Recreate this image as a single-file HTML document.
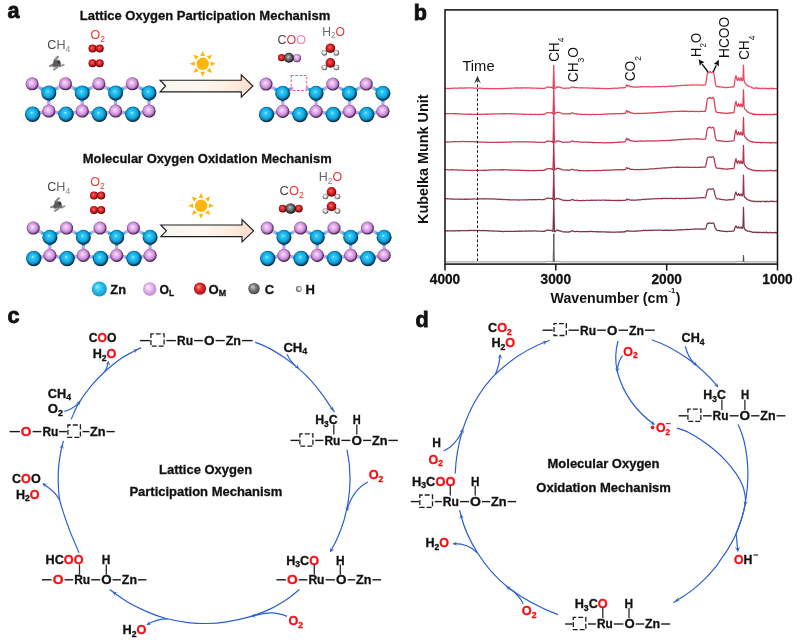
<!DOCTYPE html>
<html><head><meta charset="utf-8"><title>figure</title>
<style>html,body{margin:0;padding:0;background:#fff;}svg{display:block;will-change:transform;}text{font-family:"Liberation Sans",sans-serif;}</style>
</head><body>
<svg width="800" height="642" viewBox="0 0 800 642">
<defs>
<radialGradient id="gB" cx="0.47" cy="0.46" r="0.55" fx="0.44" fy="0.40"><stop offset="0" stop-color="#e4faff"/><stop offset="0.14" stop-color="#38cdf8"/><stop offset="0.46" stop-color="#19b5ec"/><stop offset="0.68" stop-color="#0f96cd"/><stop offset="0.86" stop-color="#074a70"/><stop offset="1" stop-color="#020f18"/></radialGradient>
<radialGradient id="gP" cx="0.47" cy="0.46" r="0.55" fx="0.44" fy="0.40"><stop offset="0" stop-color="#ffffff"/><stop offset="0.14" stop-color="#f2cdf8"/><stop offset="0.46" stop-color="#dfa4eb"/><stop offset="0.68" stop-color="#c387d2"/><stop offset="0.86" stop-color="#6a4074"/><stop offset="1" stop-color="#180a1e"/></radialGradient>
<radialGradient id="gR" cx="0.47" cy="0.46" r="0.55" fx="0.44" fy="0.40"><stop offset="0" stop-color="#ffd8d8"/><stop offset="0.14" stop-color="#f45050"/><stop offset="0.46" stop-color="#e42428"/><stop offset="0.68" stop-color="#c4181a"/><stop offset="0.86" stop-color="#6e0a0a"/><stop offset="1" stop-color="#220000"/></radialGradient>
<radialGradient id="gG" cx="0.47" cy="0.46" r="0.55" fx="0.44" fy="0.40"><stop offset="0" stop-color="#f0f0f0"/><stop offset="0.14" stop-color="#a4a4a4"/><stop offset="0.46" stop-color="#707070"/><stop offset="0.68" stop-color="#4e4e4e"/><stop offset="0.86" stop-color="#262626"/><stop offset="1" stop-color="#050505"/></radialGradient>
<radialGradient id="gW" cx="0.47" cy="0.46" r="0.55" fx="0.44" fy="0.40"><stop offset="0" stop-color="#ffffff"/><stop offset="0.14" stop-color="#f6f6f6"/><stop offset="0.46" stop-color="#d8d8d8"/><stop offset="0.68" stop-color="#a4a4a4"/><stop offset="0.86" stop-color="#5e5e5e"/><stop offset="1" stop-color="#222222"/></radialGradient>
<radialGradient id="gBL" cx="0.5" cy="0.5" r="0.62" fx="0.36" fy="0.33"><stop offset="0" stop-color="#9af0ff"/><stop offset="0.38" stop-color="#34c8f2"/><stop offset="0.78" stop-color="#159ccf"/><stop offset="1" stop-color="#0a4a6c"/></radialGradient>
<radialGradient id="gPL" cx="0.5" cy="0.5" r="0.62" fx="0.36" fy="0.33"><stop offset="0" stop-color="#ffffff"/><stop offset="0.38" stop-color="#e9bcf3"/><stop offset="0.78" stop-color="#c790d6"/><stop offset="1" stop-color="#6c4478"/></radialGradient>
<radialGradient id="gRL" cx="0.5" cy="0.5" r="0.62" fx="0.36" fy="0.33"><stop offset="0" stop-color="#ff9c9c"/><stop offset="0.38" stop-color="#e83034"/><stop offset="0.78" stop-color="#b01418"/><stop offset="1" stop-color="#4a0404"/></radialGradient>
<radialGradient id="gGL" cx="0.5" cy="0.5" r="0.62" fx="0.36" fy="0.33"><stop offset="0" stop-color="#d0d0d0"/><stop offset="0.38" stop-color="#848484"/><stop offset="0.78" stop-color="#4c4c4c"/><stop offset="1" stop-color="#181818"/></radialGradient>
<radialGradient id="gHL" cx="0.5" cy="0.5" r="0.62" fx="0.66" fy="0.42"><stop offset="0" stop-color="#ffffff"/><stop offset="0.35" stop-color="#d8d8d8"/><stop offset="0.75" stop-color="#707070"/><stop offset="1" stop-color="#2a2a2a"/></radialGradient>
<linearGradient id="gArrow" x1="0" x2="1" y1="0" y2="0"><stop offset="0" stop-color="#f7f5f0"/><stop offset="0.45" stop-color="#fdf7f0"/><stop offset="0.8" stop-color="#fdebdc"/><stop offset="1" stop-color="#fbdac8"/></linearGradient>
<filter id="blur1" x="-20%" y="-20%" width="140%" height="140%"><feGaussianBlur stdDeviation="0.55"/></filter>
<marker id="ah" viewBox="0 0 10 10" refX="8" refY="5" markerWidth="5.5" markerHeight="5.5" orient="auto-start-reverse"><path d="M0,1 L10,5 L0,9 L3,5 Z" fill="#2a5fd0"/></marker>
</defs>
<rect width="800" height="642" fill="#fff"/>
<g id="panel-a">
<text x="7.4" y="18.3" font-size="21.6" font-weight="bold" fill="#111" text-anchor="start" stroke="#111" stroke-width="0.8">a</text>
<text x="205" y="19.9" font-size="13" font-weight="bold" fill="#111" text-anchor="middle" textLength="250.5" lengthAdjust="spacingAndGlyphs" stroke="#111" stroke-width="0.3">Lattice Oxygen Participation Mechanism</text>
<text x="207.2" y="163.2" font-size="13" font-weight="bold" fill="#111" text-anchor="middle" textLength="249" lengthAdjust="spacingAndGlyphs" stroke="#111" stroke-width="0.3">Molecular Oxygen Oxidation Mechanism</text>
<line x1="32.1" y1="83.8" x2="40.5" y2="88.3" stroke="#d79be6" stroke-width="3.3"/>
<line x1="40.5" y1="88.3" x2="48.8" y2="92.9" stroke="#1cb4e6" stroke-width="3.3"/>
<line x1="48.8" y1="92.9" x2="57.1" y2="88.3" stroke="#1cb4e6" stroke-width="3.3"/>
<line x1="57.1" y1="88.3" x2="65.5" y2="83.8" stroke="#d79be6" stroke-width="3.3"/>
<line x1="65.5" y1="83.8" x2="73.8" y2="88.3" stroke="#d79be6" stroke-width="3.3"/>
<line x1="73.8" y1="88.3" x2="82.2" y2="92.9" stroke="#1cb4e6" stroke-width="3.3"/>
<line x1="82.2" y1="92.9" x2="90.5" y2="88.3" stroke="#1cb4e6" stroke-width="3.3"/>
<line x1="90.5" y1="88.3" x2="98.9" y2="83.8" stroke="#d79be6" stroke-width="3.3"/>
<line x1="98.9" y1="83.8" x2="107.2" y2="88.3" stroke="#d79be6" stroke-width="3.3"/>
<line x1="107.2" y1="88.3" x2="115.6" y2="92.9" stroke="#1cb4e6" stroke-width="3.3"/>
<line x1="115.6" y1="92.9" x2="123.9" y2="88.3" stroke="#1cb4e6" stroke-width="3.3"/>
<line x1="123.9" y1="88.3" x2="132.3" y2="83.8" stroke="#d79be6" stroke-width="3.3"/>
<line x1="132.3" y1="83.8" x2="140.6" y2="88.3" stroke="#d79be6" stroke-width="3.3"/>
<line x1="140.6" y1="88.3" x2="149.0" y2="92.9" stroke="#1cb4e6" stroke-width="3.3"/>
<line x1="32.6" y1="114.2" x2="40.7" y2="112.6" stroke="#1cb4e6" stroke-width="3.3"/>
<line x1="40.7" y1="112.6" x2="48.8" y2="111.0" stroke="#d79be6" stroke-width="3.3"/>
<line x1="48.8" y1="111.0" x2="57.4" y2="112.6" stroke="#d79be6" stroke-width="3.3"/>
<line x1="57.4" y1="112.6" x2="66.0" y2="114.2" stroke="#1cb4e6" stroke-width="3.3"/>
<line x1="66.0" y1="114.2" x2="74.1" y2="112.6" stroke="#1cb4e6" stroke-width="3.3"/>
<line x1="74.1" y1="112.6" x2="82.2" y2="111.0" stroke="#d79be6" stroke-width="3.3"/>
<line x1="82.2" y1="111.0" x2="90.8" y2="112.6" stroke="#d79be6" stroke-width="3.3"/>
<line x1="90.8" y1="112.6" x2="99.4" y2="114.2" stroke="#1cb4e6" stroke-width="3.3"/>
<line x1="99.4" y1="114.2" x2="107.5" y2="112.6" stroke="#1cb4e6" stroke-width="3.3"/>
<line x1="107.5" y1="112.6" x2="115.6" y2="111.0" stroke="#d79be6" stroke-width="3.3"/>
<line x1="115.6" y1="111.0" x2="124.2" y2="112.6" stroke="#d79be6" stroke-width="3.3"/>
<line x1="124.2" y1="112.6" x2="132.8" y2="114.2" stroke="#1cb4e6" stroke-width="3.3"/>
<line x1="132.8" y1="114.2" x2="140.9" y2="112.6" stroke="#1cb4e6" stroke-width="3.3"/>
<line x1="140.9" y1="112.6" x2="149.0" y2="111.0" stroke="#d79be6" stroke-width="3.3"/>
<line x1="48.8" y1="92.9" x2="48.8" y2="101.9" stroke="#1cb4e6" stroke-width="3.3"/>
<line x1="48.8" y1="101.9" x2="48.8" y2="111.0" stroke="#d79be6" stroke-width="3.3"/>
<line x1="82.2" y1="92.9" x2="82.2" y2="101.9" stroke="#1cb4e6" stroke-width="3.3"/>
<line x1="82.2" y1="101.9" x2="82.2" y2="111.0" stroke="#d79be6" stroke-width="3.3"/>
<line x1="115.6" y1="92.9" x2="115.6" y2="101.9" stroke="#1cb4e6" stroke-width="3.3"/>
<line x1="115.6" y1="101.9" x2="115.6" y2="111.0" stroke="#d79be6" stroke-width="3.3"/>
<line x1="149.0" y1="92.9" x2="149.0" y2="101.9" stroke="#1cb4e6" stroke-width="3.3"/>
<line x1="149.0" y1="101.9" x2="149.0" y2="111.0" stroke="#d79be6" stroke-width="3.3"/>
<circle cx="32.6" cy="114.2" r="7.7" fill="url(#gB)"/>
<circle cx="48.8" cy="111.0" r="6.6" fill="url(#gP)"/>
<circle cx="66.0" cy="114.2" r="7.7" fill="url(#gB)"/>
<circle cx="82.2" cy="111.0" r="6.6" fill="url(#gP)"/>
<circle cx="99.4" cy="114.2" r="7.7" fill="url(#gB)"/>
<circle cx="115.6" cy="111.0" r="6.6" fill="url(#gP)"/>
<circle cx="132.8" cy="114.2" r="7.7" fill="url(#gB)"/>
<circle cx="149.0" cy="111.0" r="6.6" fill="url(#gP)"/>
<circle cx="32.1" cy="83.8" r="6.5" fill="url(#gP)"/>
<circle cx="48.8" cy="92.9" r="7.5" fill="url(#gB)"/>
<circle cx="65.5" cy="83.8" r="6.5" fill="url(#gP)"/>
<circle cx="82.2" cy="92.9" r="7.5" fill="url(#gB)"/>
<circle cx="98.9" cy="83.8" r="6.5" fill="url(#gP)"/>
<circle cx="115.6" cy="92.9" r="7.5" fill="url(#gB)"/>
<circle cx="132.3" cy="83.8" r="6.5" fill="url(#gP)"/>
<circle cx="149.0" cy="92.9" r="7.5" fill="url(#gB)"/>
<line x1="266.0" y1="84.1" x2="274.4" y2="88.6" stroke="#d79be6" stroke-width="3.3"/>
<line x1="274.4" y1="88.6" x2="282.7" y2="93.2" stroke="#1cb4e6" stroke-width="3.3"/>
<line x1="282.7" y1="93.2" x2="291.0" y2="88.6" stroke="#1cb4e6" stroke-width="3"/>
<line x1="291.0" y1="88.6" x2="293.1" y2="87.6" stroke="#d79be6" stroke-width="3"/>
<line x1="316.1" y1="93.2" x2="307.8" y2="88.6" stroke="#1cb4e6" stroke-width="3"/>
<line x1="307.8" y1="88.6" x2="305.7" y2="87.6" stroke="#d79be6" stroke-width="3"/>
<line x1="316.1" y1="93.2" x2="324.5" y2="88.6" stroke="#1cb4e6" stroke-width="3.3"/>
<line x1="324.5" y1="88.6" x2="332.8" y2="84.1" stroke="#d79be6" stroke-width="3.3"/>
<line x1="332.8" y1="84.1" x2="341.1" y2="88.6" stroke="#d79be6" stroke-width="3.3"/>
<line x1="341.1" y1="88.6" x2="349.5" y2="93.2" stroke="#1cb4e6" stroke-width="3.3"/>
<line x1="349.5" y1="93.2" x2="357.9" y2="88.6" stroke="#1cb4e6" stroke-width="3.3"/>
<line x1="357.9" y1="88.6" x2="366.2" y2="84.1" stroke="#d79be6" stroke-width="3.3"/>
<line x1="366.2" y1="84.1" x2="374.5" y2="88.6" stroke="#d79be6" stroke-width="3.3"/>
<line x1="374.5" y1="88.6" x2="382.9" y2="93.2" stroke="#1cb4e6" stroke-width="3.3"/>
<line x1="266.5" y1="114.5" x2="274.6" y2="112.9" stroke="#1cb4e6" stroke-width="3.3"/>
<line x1="274.6" y1="112.9" x2="282.7" y2="111.3" stroke="#d79be6" stroke-width="3.3"/>
<line x1="282.7" y1="111.3" x2="291.3" y2="112.9" stroke="#d79be6" stroke-width="3.3"/>
<line x1="291.3" y1="112.9" x2="299.9" y2="114.5" stroke="#1cb4e6" stroke-width="3.3"/>
<line x1="299.9" y1="114.5" x2="308.0" y2="112.9" stroke="#1cb4e6" stroke-width="3.3"/>
<line x1="308.0" y1="112.9" x2="316.1" y2="111.3" stroke="#d79be6" stroke-width="3.3"/>
<line x1="316.1" y1="111.3" x2="324.7" y2="112.9" stroke="#d79be6" stroke-width="3.3"/>
<line x1="324.7" y1="112.9" x2="333.3" y2="114.5" stroke="#1cb4e6" stroke-width="3.3"/>
<line x1="333.3" y1="114.5" x2="341.4" y2="112.9" stroke="#1cb4e6" stroke-width="3.3"/>
<line x1="341.4" y1="112.9" x2="349.5" y2="111.3" stroke="#d79be6" stroke-width="3.3"/>
<line x1="349.5" y1="111.3" x2="358.1" y2="112.9" stroke="#d79be6" stroke-width="3.3"/>
<line x1="358.1" y1="112.9" x2="366.7" y2="114.5" stroke="#1cb4e6" stroke-width="3.3"/>
<line x1="366.7" y1="114.5" x2="374.8" y2="112.9" stroke="#1cb4e6" stroke-width="3.3"/>
<line x1="374.8" y1="112.9" x2="382.9" y2="111.3" stroke="#d79be6" stroke-width="3.3"/>
<line x1="282.7" y1="93.2" x2="282.7" y2="102.2" stroke="#1cb4e6" stroke-width="3.3"/>
<line x1="282.7" y1="102.2" x2="282.7" y2="111.3" stroke="#d79be6" stroke-width="3.3"/>
<line x1="316.1" y1="93.2" x2="316.1" y2="102.2" stroke="#1cb4e6" stroke-width="3.3"/>
<line x1="316.1" y1="102.2" x2="316.1" y2="111.3" stroke="#d79be6" stroke-width="3.3"/>
<line x1="349.5" y1="93.2" x2="349.5" y2="102.2" stroke="#1cb4e6" stroke-width="3.3"/>
<line x1="349.5" y1="102.2" x2="349.5" y2="111.3" stroke="#d79be6" stroke-width="3.3"/>
<line x1="382.9" y1="93.2" x2="382.9" y2="102.2" stroke="#1cb4e6" stroke-width="3.3"/>
<line x1="382.9" y1="102.2" x2="382.9" y2="111.3" stroke="#d79be6" stroke-width="3.3"/>
<circle cx="266.5" cy="114.5" r="7.7" fill="url(#gB)"/>
<circle cx="282.7" cy="111.3" r="6.6" fill="url(#gP)"/>
<circle cx="299.9" cy="114.5" r="7.7" fill="url(#gB)"/>
<circle cx="316.1" cy="111.3" r="6.6" fill="url(#gP)"/>
<circle cx="333.3" cy="114.5" r="7.7" fill="url(#gB)"/>
<circle cx="349.5" cy="111.3" r="6.6" fill="url(#gP)"/>
<circle cx="366.7" cy="114.5" r="7.7" fill="url(#gB)"/>
<circle cx="382.9" cy="111.3" r="6.6" fill="url(#gP)"/>
<circle cx="266.0" cy="84.1" r="6.5" fill="url(#gP)"/>
<circle cx="282.7" cy="93.2" r="7.5" fill="url(#gB)"/>
<circle cx="316.1" cy="93.2" r="7.5" fill="url(#gB)"/>
<circle cx="332.8" cy="84.1" r="6.5" fill="url(#gP)"/>
<circle cx="349.5" cy="93.2" r="7.5" fill="url(#gB)"/>
<circle cx="366.2" cy="84.1" r="6.5" fill="url(#gP)"/>
<circle cx="382.9" cy="93.2" r="7.5" fill="url(#gB)"/>
<rect x="291.2" y="75.5" width="15.6" height="15" fill="none" stroke="#ee4fa0" stroke-width="1" stroke-dasharray="2.6,1.6"/>
<path d="M160.1,80.2 L241.3,80.2 L241.3,74.8 L252.89999999999998,86 L241.3,97.2 L241.3,91.8 L160.1,91.8 L165.6,86 Z" fill="url(#gArrow)" stroke="#1e1e1e" stroke-width="1.15" stroke-linejoin="miter"/>
<circle cx="202.7" cy="63.8" r="6.2" fill="#ffb60a"/>
<path d="M210.60,66.10 L215.70,63.80 L210.60,61.50 Z" fill="#ffb60a"/>
<path d="M206.66,71.01 L211.89,72.99 L209.91,67.76 Z" fill="#ffb60a"/>
<path d="M200.40,71.70 L202.70,76.80 L205.00,71.70 Z" fill="#ffb60a"/>
<path d="M195.49,67.76 L193.51,72.99 L198.74,71.01 Z" fill="#ffb60a"/>
<path d="M194.80,61.50 L189.70,63.80 L194.80,66.10 Z" fill="#ffb60a"/>
<path d="M198.74,56.59 L193.51,54.61 L195.49,59.84 Z" fill="#ffb60a"/>
<path d="M205.00,55.90 L202.70,50.80 L200.40,55.90 Z" fill="#ffb60a"/>
<path d="M209.91,59.84 L211.89,54.61 L206.66,56.59 Z" fill="#ffb60a"/>
<text x="47.3" y="48.9" font-size="12.6" font-weight="normal" text-anchor="start" textLength="23" lengthAdjust="spacingAndGlyphs"><tspan fill="#444">C</tspan><tspan fill="#666">H</tspan><tspan fill="#888" font-size="8.57" dy="2.77">4</tspan></text>
<text x="90.6" y="39.2" font-size="12.6" font-weight="normal" text-anchor="start" textLength="14.4" lengthAdjust="spacingAndGlyphs"><tspan fill="#e8333a">O</tspan><tspan fill="#e8333a" font-size="8.57" dy="2.77">2</tspan></text>
<g filter="url(#blur1)" transform="translate(0.0,0.0)" stroke-linecap="round" fill="none">
<line x1="54.6" y1="60.4" x2="57.8" y2="56.9" stroke="#8c8c8c" stroke-width="2.3"/>
<line x1="57.6" y1="66.9" x2="54.1" y2="69.5" stroke="#8c8c8c" stroke-width="2.1"/>
<line x1="60.2" y1="66.2" x2="63.6" y2="64.8" stroke="#9a9a9a" stroke-width="2.0"/>
<line x1="52.4" y1="65" x2="50" y2="66" stroke="#888" stroke-width="2.0"/>
<path d="M52.2,65.6 L54.2,60.6 L58.6,60.2 L60.6,62.8 L60.4,66.2 L56.5,66.2 L53.8,67 Z" fill="#5c5c5c" stroke="#5c5c5c" stroke-width="0.6"/>
<circle cx="58.8" cy="62" r="1.4" fill="#333" stroke="none"/>
</g>
<circle cx="92.5" cy="48.6" r="4.0" fill="url(#gR)"/>
<circle cx="99.7" cy="48.6" r="4.0" fill="url(#gR)"/>
<circle cx="92.5" cy="63.2" r="4.0" fill="url(#gR)"/>
<circle cx="99.7" cy="63.2" r="4.0" fill="url(#gR)"/>
<text x="277.5" y="44.3" font-size="12.6" font-weight="normal" text-anchor="start" textLength="28.5" lengthAdjust="spacingAndGlyphs"><tspan fill="#444">C</tspan><tspan fill="#e8333a">O</tspan><tspan fill="#f27fc4">O</tspan></text>
<text x="322.2" y="35.5" font-size="12.6" font-weight="normal" text-anchor="start" textLength="22.8" lengthAdjust="spacingAndGlyphs"><tspan fill="#666">H</tspan><tspan fill="#888" font-size="8.57" dy="2.77">2</tspan><tspan fill="#e8333a" dy="-2.77">O</tspan></text>
<circle cx="281.6" cy="57.7" r="3.6" fill="url(#gR)"/>
<circle cx="296.9" cy="58.1" r="4.2" fill="url(#gP)"/>
<circle cx="288.9" cy="57.8" r="5.0" fill="url(#gG)"/>
<circle cx="324.4" cy="52.8" r="2.8" fill="url(#gW)"/>
<circle cx="336.4" cy="52.8" r="2.8" fill="url(#gW)"/>
<circle cx="330.4" cy="48.2" r="4.8" fill="url(#gR)"/>
<circle cx="324.4" cy="67.5" r="2.8" fill="url(#gW)"/>
<circle cx="336.4" cy="67.5" r="2.8" fill="url(#gW)"/>
<circle cx="330.4" cy="62.9" r="4.8" fill="url(#gR)"/>
<line x1="33.2" y1="228.1" x2="41.6" y2="232.6" stroke="#d79be6" stroke-width="3.3"/>
<line x1="41.6" y1="232.6" x2="49.9" y2="237.2" stroke="#1cb4e6" stroke-width="3.3"/>
<line x1="49.9" y1="237.2" x2="58.2" y2="232.6" stroke="#1cb4e6" stroke-width="3.3"/>
<line x1="58.2" y1="232.6" x2="66.6" y2="228.1" stroke="#d79be6" stroke-width="3.3"/>
<line x1="66.6" y1="228.1" x2="74.9" y2="232.6" stroke="#d79be6" stroke-width="3.3"/>
<line x1="74.9" y1="232.6" x2="83.3" y2="237.2" stroke="#1cb4e6" stroke-width="3.3"/>
<line x1="83.3" y1="237.2" x2="91.7" y2="232.6" stroke="#1cb4e6" stroke-width="3.3"/>
<line x1="91.7" y1="232.6" x2="100.0" y2="228.1" stroke="#d79be6" stroke-width="3.3"/>
<line x1="100.0" y1="228.1" x2="108.3" y2="232.6" stroke="#d79be6" stroke-width="3.3"/>
<line x1="108.3" y1="232.6" x2="116.7" y2="237.2" stroke="#1cb4e6" stroke-width="3.3"/>
<line x1="116.7" y1="237.2" x2="125.0" y2="232.6" stroke="#1cb4e6" stroke-width="3.3"/>
<line x1="125.0" y1="232.6" x2="133.4" y2="228.1" stroke="#d79be6" stroke-width="3.3"/>
<line x1="133.4" y1="228.1" x2="141.8" y2="232.6" stroke="#d79be6" stroke-width="3.3"/>
<line x1="141.8" y1="232.6" x2="150.1" y2="237.2" stroke="#1cb4e6" stroke-width="3.3"/>
<line x1="33.7" y1="258.5" x2="41.8" y2="256.9" stroke="#1cb4e6" stroke-width="3.3"/>
<line x1="41.8" y1="256.9" x2="49.9" y2="255.3" stroke="#d79be6" stroke-width="3.3"/>
<line x1="49.9" y1="255.3" x2="58.5" y2="256.9" stroke="#d79be6" stroke-width="3.3"/>
<line x1="58.5" y1="256.9" x2="67.1" y2="258.5" stroke="#1cb4e6" stroke-width="3.3"/>
<line x1="67.1" y1="258.5" x2="75.2" y2="256.9" stroke="#1cb4e6" stroke-width="3.3"/>
<line x1="75.2" y1="256.9" x2="83.3" y2="255.3" stroke="#d79be6" stroke-width="3.3"/>
<line x1="83.3" y1="255.3" x2="91.9" y2="256.9" stroke="#d79be6" stroke-width="3.3"/>
<line x1="91.9" y1="256.9" x2="100.5" y2="258.5" stroke="#1cb4e6" stroke-width="3.3"/>
<line x1="100.5" y1="258.5" x2="108.6" y2="256.9" stroke="#1cb4e6" stroke-width="3.3"/>
<line x1="108.6" y1="256.9" x2="116.7" y2="255.3" stroke="#d79be6" stroke-width="3.3"/>
<line x1="116.7" y1="255.3" x2="125.3" y2="256.9" stroke="#d79be6" stroke-width="3.3"/>
<line x1="125.3" y1="256.9" x2="133.9" y2="258.5" stroke="#1cb4e6" stroke-width="3.3"/>
<line x1="133.9" y1="258.5" x2="142.0" y2="256.9" stroke="#1cb4e6" stroke-width="3.3"/>
<line x1="142.0" y1="256.9" x2="150.1" y2="255.3" stroke="#d79be6" stroke-width="3.3"/>
<line x1="49.9" y1="237.2" x2="49.9" y2="246.2" stroke="#1cb4e6" stroke-width="3.3"/>
<line x1="49.9" y1="246.2" x2="49.9" y2="255.3" stroke="#d79be6" stroke-width="3.3"/>
<line x1="83.3" y1="237.2" x2="83.3" y2="246.2" stroke="#1cb4e6" stroke-width="3.3"/>
<line x1="83.3" y1="246.2" x2="83.3" y2="255.3" stroke="#d79be6" stroke-width="3.3"/>
<line x1="116.7" y1="237.2" x2="116.7" y2="246.2" stroke="#1cb4e6" stroke-width="3.3"/>
<line x1="116.7" y1="246.2" x2="116.7" y2="255.3" stroke="#d79be6" stroke-width="3.3"/>
<line x1="150.1" y1="237.2" x2="150.1" y2="246.2" stroke="#1cb4e6" stroke-width="3.3"/>
<line x1="150.1" y1="246.2" x2="150.1" y2="255.3" stroke="#d79be6" stroke-width="3.3"/>
<circle cx="33.7" cy="258.5" r="7.7" fill="url(#gB)"/>
<circle cx="49.9" cy="255.3" r="6.6" fill="url(#gP)"/>
<circle cx="67.1" cy="258.5" r="7.7" fill="url(#gB)"/>
<circle cx="83.3" cy="255.3" r="6.6" fill="url(#gP)"/>
<circle cx="100.5" cy="258.5" r="7.7" fill="url(#gB)"/>
<circle cx="116.7" cy="255.3" r="6.6" fill="url(#gP)"/>
<circle cx="133.9" cy="258.5" r="7.7" fill="url(#gB)"/>
<circle cx="150.1" cy="255.3" r="6.6" fill="url(#gP)"/>
<circle cx="33.2" cy="228.1" r="6.5" fill="url(#gP)"/>
<circle cx="49.9" cy="237.2" r="7.5" fill="url(#gB)"/>
<circle cx="66.6" cy="228.1" r="6.5" fill="url(#gP)"/>
<circle cx="83.3" cy="237.2" r="7.5" fill="url(#gB)"/>
<circle cx="100.0" cy="228.1" r="6.5" fill="url(#gP)"/>
<circle cx="116.7" cy="237.2" r="7.5" fill="url(#gB)"/>
<circle cx="133.4" cy="228.1" r="6.5" fill="url(#gP)"/>
<circle cx="150.1" cy="237.2" r="7.5" fill="url(#gB)"/>
<line x1="267.2" y1="228.1" x2="275.5" y2="232.6" stroke="#d79be6" stroke-width="3.3"/>
<line x1="275.5" y1="232.6" x2="283.9" y2="237.2" stroke="#1cb4e6" stroke-width="3.3"/>
<line x1="283.9" y1="237.2" x2="292.2" y2="232.6" stroke="#1cb4e6" stroke-width="3.3"/>
<line x1="292.2" y1="232.6" x2="300.6" y2="228.1" stroke="#d79be6" stroke-width="3.3"/>
<line x1="300.6" y1="228.1" x2="308.9" y2="232.6" stroke="#d79be6" stroke-width="3.3"/>
<line x1="308.9" y1="232.6" x2="317.3" y2="237.2" stroke="#1cb4e6" stroke-width="3.3"/>
<line x1="317.3" y1="237.2" x2="325.6" y2="232.6" stroke="#1cb4e6" stroke-width="3.3"/>
<line x1="325.6" y1="232.6" x2="334.0" y2="228.1" stroke="#d79be6" stroke-width="3.3"/>
<line x1="334.0" y1="228.1" x2="342.4" y2="232.6" stroke="#d79be6" stroke-width="3.3"/>
<line x1="342.4" y1="232.6" x2="350.7" y2="237.2" stroke="#1cb4e6" stroke-width="3.3"/>
<line x1="350.7" y1="237.2" x2="359.0" y2="232.6" stroke="#1cb4e6" stroke-width="3.3"/>
<line x1="359.0" y1="232.6" x2="367.4" y2="228.1" stroke="#d79be6" stroke-width="3.3"/>
<line x1="367.4" y1="228.1" x2="375.8" y2="232.6" stroke="#d79be6" stroke-width="3.3"/>
<line x1="375.8" y1="232.6" x2="384.1" y2="237.2" stroke="#1cb4e6" stroke-width="3.3"/>
<line x1="267.7" y1="258.5" x2="275.8" y2="256.9" stroke="#1cb4e6" stroke-width="3.3"/>
<line x1="275.8" y1="256.9" x2="283.9" y2="255.3" stroke="#d79be6" stroke-width="3.3"/>
<line x1="283.9" y1="255.3" x2="292.5" y2="256.9" stroke="#d79be6" stroke-width="3.3"/>
<line x1="292.5" y1="256.9" x2="301.1" y2="258.5" stroke="#1cb4e6" stroke-width="3.3"/>
<line x1="301.1" y1="258.5" x2="309.2" y2="256.9" stroke="#1cb4e6" stroke-width="3.3"/>
<line x1="309.2" y1="256.9" x2="317.3" y2="255.3" stroke="#d79be6" stroke-width="3.3"/>
<line x1="317.3" y1="255.3" x2="325.9" y2="256.9" stroke="#d79be6" stroke-width="3.3"/>
<line x1="325.9" y1="256.9" x2="334.5" y2="258.5" stroke="#1cb4e6" stroke-width="3.3"/>
<line x1="334.5" y1="258.5" x2="342.6" y2="256.9" stroke="#1cb4e6" stroke-width="3.3"/>
<line x1="342.6" y1="256.9" x2="350.7" y2="255.3" stroke="#d79be6" stroke-width="3.3"/>
<line x1="350.7" y1="255.3" x2="359.3" y2="256.9" stroke="#d79be6" stroke-width="3.3"/>
<line x1="359.3" y1="256.9" x2="367.9" y2="258.5" stroke="#1cb4e6" stroke-width="3.3"/>
<line x1="367.9" y1="258.5" x2="376.0" y2="256.9" stroke="#1cb4e6" stroke-width="3.3"/>
<line x1="376.0" y1="256.9" x2="384.1" y2="255.3" stroke="#d79be6" stroke-width="3.3"/>
<line x1="283.9" y1="237.2" x2="283.9" y2="246.2" stroke="#1cb4e6" stroke-width="3.3"/>
<line x1="283.9" y1="246.2" x2="283.9" y2="255.3" stroke="#d79be6" stroke-width="3.3"/>
<line x1="317.3" y1="237.2" x2="317.3" y2="246.2" stroke="#1cb4e6" stroke-width="3.3"/>
<line x1="317.3" y1="246.2" x2="317.3" y2="255.3" stroke="#d79be6" stroke-width="3.3"/>
<line x1="350.7" y1="237.2" x2="350.7" y2="246.2" stroke="#1cb4e6" stroke-width="3.3"/>
<line x1="350.7" y1="246.2" x2="350.7" y2="255.3" stroke="#d79be6" stroke-width="3.3"/>
<line x1="384.1" y1="237.2" x2="384.1" y2="246.2" stroke="#1cb4e6" stroke-width="3.3"/>
<line x1="384.1" y1="246.2" x2="384.1" y2="255.3" stroke="#d79be6" stroke-width="3.3"/>
<circle cx="267.7" cy="258.5" r="7.7" fill="url(#gB)"/>
<circle cx="283.9" cy="255.3" r="6.6" fill="url(#gP)"/>
<circle cx="301.1" cy="258.5" r="7.7" fill="url(#gB)"/>
<circle cx="317.3" cy="255.3" r="6.6" fill="url(#gP)"/>
<circle cx="334.5" cy="258.5" r="7.7" fill="url(#gB)"/>
<circle cx="350.7" cy="255.3" r="6.6" fill="url(#gP)"/>
<circle cx="367.9" cy="258.5" r="7.7" fill="url(#gB)"/>
<circle cx="384.1" cy="255.3" r="6.6" fill="url(#gP)"/>
<circle cx="267.2" cy="228.1" r="6.5" fill="url(#gP)"/>
<circle cx="283.9" cy="237.2" r="7.5" fill="url(#gB)"/>
<circle cx="300.6" cy="228.1" r="6.5" fill="url(#gP)"/>
<circle cx="317.3" cy="237.2" r="7.5" fill="url(#gB)"/>
<circle cx="334.0" cy="228.1" r="6.5" fill="url(#gP)"/>
<circle cx="350.7" cy="237.2" r="7.5" fill="url(#gB)"/>
<circle cx="367.4" cy="228.1" r="6.5" fill="url(#gP)"/>
<circle cx="384.1" cy="237.2" r="7.5" fill="url(#gB)"/>
<path d="M160.8,225.0 L242.0,225.0 L242.0,219.60000000000002 L253.60000000000002,230.8 L242.0,242.0 L242.0,236.60000000000002 L160.8,236.60000000000002 L166.3,230.8 Z" fill="url(#gArrow)" stroke="#1e1e1e" stroke-width="1.15" stroke-linejoin="miter"/>
<circle cx="201.1" cy="205.8" r="6.2" fill="#ffb60a"/>
<path d="M209.00,208.10 L214.10,205.80 L209.00,203.50 Z" fill="#ffb60a"/>
<path d="M205.06,213.01 L210.29,214.99 L208.31,209.76 Z" fill="#ffb60a"/>
<path d="M198.80,213.70 L201.10,218.80 L203.40,213.70 Z" fill="#ffb60a"/>
<path d="M193.89,209.76 L191.91,214.99 L197.14,213.01 Z" fill="#ffb60a"/>
<path d="M193.20,203.50 L188.10,205.80 L193.20,208.10 Z" fill="#ffb60a"/>
<path d="M197.14,198.59 L191.91,196.61 L193.89,201.84 Z" fill="#ffb60a"/>
<path d="M203.40,197.90 L201.10,192.80 L198.80,197.90 Z" fill="#ffb60a"/>
<path d="M208.31,201.84 L210.29,196.61 L205.06,198.59 Z" fill="#ffb60a"/>
<text x="47.2" y="191.4" font-size="12.6" font-weight="normal" text-anchor="start" textLength="23" lengthAdjust="spacingAndGlyphs"><tspan fill="#444">C</tspan><tspan fill="#666">H</tspan><tspan fill="#888" font-size="8.57" dy="2.77">4</tspan></text>
<text x="90.2" y="186.2" font-size="12.6" font-weight="normal" text-anchor="start" textLength="14.5" lengthAdjust="spacingAndGlyphs"><tspan fill="#e8333a">O</tspan><tspan fill="#e8333a" font-size="8.57" dy="2.77">2</tspan></text>
<g filter="url(#blur1)" transform="translate(1.0,141.4)" stroke-linecap="round" fill="none">
<line x1="54.6" y1="60.4" x2="57.8" y2="56.9" stroke="#8c8c8c" stroke-width="2.3"/>
<line x1="57.6" y1="66.9" x2="54.1" y2="69.5" stroke="#8c8c8c" stroke-width="2.1"/>
<line x1="60.2" y1="66.2" x2="63.6" y2="64.8" stroke="#9a9a9a" stroke-width="2.0"/>
<line x1="52.4" y1="65" x2="50" y2="66" stroke="#888" stroke-width="2.0"/>
<path d="M52.2,65.6 L54.2,60.6 L58.6,60.2 L60.6,62.8 L60.4,66.2 L56.5,66.2 L53.8,67 Z" fill="#5c5c5c" stroke="#5c5c5c" stroke-width="0.6"/>
<circle cx="58.8" cy="62" r="1.4" fill="#333" stroke="none"/>
</g>
<circle cx="94.0" cy="195.6" r="4.0" fill="url(#gR)"/>
<circle cx="101.2" cy="195.6" r="4.0" fill="url(#gR)"/>
<circle cx="94.0" cy="210.0" r="4.0" fill="url(#gR)"/>
<circle cx="101.2" cy="210.0" r="4.0" fill="url(#gR)"/>
<text x="279.6" y="195.4" font-size="12.8" font-weight="normal" text-anchor="start" textLength="24.4" lengthAdjust="spacingAndGlyphs"><tspan fill="#444">C</tspan><tspan fill="#e8333a">O</tspan><tspan fill="#e8333a" font-size="8.70" dy="2.82">2</tspan></text>
<text x="318.8" y="180.8" font-size="12.8" font-weight="normal" text-anchor="start" textLength="23.4" lengthAdjust="spacingAndGlyphs"><tspan fill="#666">H</tspan><tspan fill="#888" font-size="8.70" dy="2.82">2</tspan><tspan fill="#e8333a" dy="-2.82">O</tspan></text>
<circle cx="282.7" cy="208.6" r="3.9" fill="url(#gR)"/>
<circle cx="298.8" cy="208.6" r="3.9" fill="url(#gR)"/>
<circle cx="290.6" cy="208.5" r="5.3" fill="url(#gG)"/>
<circle cx="325.5" cy="196.5" r="2.8" fill="url(#gW)"/>
<circle cx="337.5" cy="196.5" r="2.8" fill="url(#gW)"/>
<circle cx="331.5" cy="191.9" r="4.8" fill="url(#gR)"/>
<circle cx="325.5" cy="211.0" r="2.8" fill="url(#gW)"/>
<circle cx="337.5" cy="211.0" r="2.8" fill="url(#gW)"/>
<circle cx="331.5" cy="206.4" r="4.8" fill="url(#gR)"/>
<circle cx="99.3" cy="289.0" r="7.6" fill="url(#gBL)"/>
<text x="110.3" y="293.6" font-size="13" font-weight="bold" fill="#111" text-anchor="start" textLength="15.7" lengthAdjust="spacingAndGlyphs" stroke="#111" stroke-width="0.3">Zn</text>
<circle cx="149.7" cy="289.0" r="6.7" fill="url(#gPL)"/>
<text x="159.5" y="293.6" font-size="13" font-weight="bold" text-anchor="start" textLength="14.6" lengthAdjust="spacingAndGlyphs" stroke-width="0.3"><tspan fill="#111" stroke="#111">O</tspan><tspan fill="#111" stroke="#111" font-size="8.84" dy="2.86">L</tspan></text>
<circle cx="200.0" cy="288.6" r="6.1" fill="url(#gRL)"/>
<text x="208.6" y="293.6" font-size="13" font-weight="bold" text-anchor="start" textLength="17.6" lengthAdjust="spacingAndGlyphs" stroke-width="0.3"><tspan fill="#111" stroke="#111">O</tspan><tspan fill="#111" stroke="#111" font-size="8.84" dy="2.86">M</tspan></text>
<circle cx="254.0" cy="288.6" r="5.7" fill="url(#gGL)"/>
<text x="264.8" y="293.6" font-size="13" font-weight="bold" fill="#111" text-anchor="start" stroke="#111" stroke-width="0.3">C</text>
<circle cx="298.8" cy="289.0" r="2.9" fill="url(#gHL)"/>
<text x="305.4" y="293.6" font-size="13" font-weight="bold" fill="#111" text-anchor="start" stroke="#111" stroke-width="0.3">H</text>
</g>
<g id="panel-b">
<text x="413.8" y="19.5" font-size="21.6" font-weight="bold" fill="#111" text-anchor="start" stroke="#111" stroke-width="0.8">b</text>
<path d="M445.00,261.90 L445.50,261.90 L446.00,261.90 L446.50,261.90 L447.00,261.90 L447.50,261.90 L448.00,261.90 L448.50,261.90 L449.00,261.90 L449.50,261.90 L450.00,261.90 L450.50,261.90 L451.00,261.90 L451.50,261.90 L452.00,261.90 L452.50,261.90 L453.00,261.90 L453.50,261.90 L454.00,261.90 L454.50,261.90 L455.00,261.90 L455.50,261.90 L456.00,261.90 L456.50,261.90 L457.00,261.90 L457.50,261.90 L458.00,261.90 L458.50,261.90 L459.00,261.90 L459.50,261.90 L460.00,261.90 L460.50,261.90 L461.00,261.90 L461.50,261.90 L462.00,261.90 L462.50,261.90 L463.00,261.90 L463.50,261.90 L464.00,261.90 L464.50,261.90 L465.00,261.90 L465.50,261.90 L466.00,261.90 L466.50,261.90 L467.00,261.90 L467.50,261.90 L468.00,261.90 L468.50,261.90 L469.00,261.90 L469.50,261.90 L470.00,261.90 L470.50,261.90 L471.00,261.90 L471.50,261.90 L472.00,261.90 L472.50,261.90 L473.00,261.90 L473.50,261.90 L474.00,261.90 L474.50,261.90 L475.00,261.90 L475.50,261.90 L476.00,261.90 L476.50,261.90 L477.00,261.90 L477.50,261.90 L478.00,261.90 L478.50,261.90 L479.00,261.90 L479.50,261.90 L480.00,261.90 L480.50,261.90 L481.00,261.90 L481.50,261.90 L482.00,261.90 L482.50,261.90 L483.00,261.90 L483.50,261.90 L484.00,261.90 L484.50,261.90 L485.00,261.90 L485.50,261.90 L486.00,261.90 L486.50,261.90 L487.00,261.90 L487.50,261.90 L488.00,261.90 L488.50,261.90 L489.00,261.90 L489.50,261.90 L490.00,261.90 L490.50,261.90 L491.00,261.90 L491.50,261.90 L492.00,261.90 L492.50,261.90 L493.00,261.90 L493.50,261.90 L494.00,261.90 L494.50,261.90 L495.00,261.90 L495.50,261.90 L496.00,261.90 L496.50,261.90 L497.00,261.90 L497.50,261.90 L498.00,261.90 L498.50,261.90 L499.00,261.90 L499.50,261.90 L500.00,261.90 L500.50,261.90 L501.00,261.90 L501.50,261.90 L502.00,261.90 L502.50,261.90 L503.00,261.90 L503.50,261.90 L504.00,261.90 L504.50,261.90 L505.00,261.90 L505.50,261.90 L506.00,261.90 L506.50,261.90 L507.00,261.90 L507.50,261.90 L508.00,261.90 L508.50,261.90 L509.00,261.90 L509.50,261.90 L510.00,261.90 L510.50,261.90 L511.00,261.90 L511.50,261.90 L512.00,261.90 L512.50,261.90 L513.00,261.90 L513.50,261.90 L514.00,261.90 L514.50,261.90 L515.00,261.90 L515.50,261.90 L516.00,261.90 L516.50,261.90 L517.00,261.90 L517.50,261.90 L518.00,261.90 L518.50,261.90 L519.00,261.90 L519.50,261.90 L520.00,261.90 L520.50,261.90 L521.00,261.90 L521.50,261.90 L522.00,261.90 L522.50,261.90 L523.00,261.90 L523.50,261.90 L524.00,261.90 L524.50,261.90 L525.00,261.90 L525.50,261.90 L526.00,261.90 L526.50,261.90 L527.00,261.90 L527.50,261.90 L528.00,261.90 L528.50,261.90 L529.00,261.90 L529.50,261.90 L530.00,261.90 L530.50,261.90 L531.00,261.90 L531.50,261.90 L532.00,261.90 L532.50,261.90 L533.00,261.90 L533.50,261.90 L534.00,261.90 L534.50,261.90 L535.00,261.90 L535.50,261.90 L536.00,261.90 L536.50,261.90 L537.00,261.90 L537.50,261.90 L538.00,261.90 L538.50,261.90 L539.00,261.90 L539.50,261.90 L540.00,261.90 L540.50,261.90 L541.00,261.90 L541.50,261.90 L542.00,261.90 L542.50,261.90 L543.00,261.90 L543.50,261.90 L544.00,261.89 L544.50,261.88 L545.00,261.85 L545.50,261.82 L546.00,261.76 L546.50,261.68 L547.00,261.58 L547.50,261.48 L548.00,261.39 L548.50,261.32 L549.00,261.30 L549.50,261.32 L550.00,261.39 L550.50,261.48 L551.00,261.58 L551.50,261.68 L552.00,261.76 L552.50,261.81 L553.00,261.84 L553.50,247.86 L553.75,233.86 L554.00,247.85 L554.50,261.82 L555.00,261.78 L555.50,261.72 L556.00,261.64 L556.50,261.55 L557.00,261.47 L557.50,261.42 L558.00,261.40 L558.50,261.42 L559.00,261.47 L559.50,261.55 L560.00,261.64 L560.50,261.72 L561.00,261.78 L561.50,261.83 L562.00,261.86 L562.50,261.88 L563.00,261.89 L563.50,261.90 L564.00,261.90 L564.50,261.90 L565.00,261.90 L565.50,261.90 L566.00,261.90 L566.50,261.90 L567.00,261.90 L567.50,261.90 L568.00,261.90 L568.50,261.90 L569.00,261.90 L569.50,261.90 L570.00,261.90 L570.50,261.90 L571.00,261.90 L571.50,261.90 L572.00,261.90 L572.50,261.90 L573.00,261.90 L573.50,261.90 L574.00,261.90 L574.50,261.90 L575.00,261.90 L575.50,261.90 L576.00,261.90 L576.50,261.90 L577.00,261.90 L577.50,261.90 L578.00,261.90 L578.50,261.90 L579.00,261.90 L579.50,261.90 L580.00,261.90 L580.50,261.90 L581.00,261.90 L581.50,261.90 L582.00,261.90 L582.50,261.90 L583.00,261.90 L583.50,261.90 L584.00,261.90 L584.50,261.90 L585.00,261.90 L585.50,261.90 L586.00,261.90 L586.50,261.90 L587.00,261.90 L587.50,261.90 L588.00,261.90 L588.50,261.90 L589.00,261.90 L589.50,261.90 L590.00,261.90 L590.50,261.90 L591.00,261.90 L591.50,261.90 L592.00,261.90 L592.50,261.90 L593.00,261.90 L593.50,261.90 L594.00,261.90 L594.50,261.90 L595.00,261.90 L595.50,261.90 L596.00,261.90 L596.50,261.90 L597.00,261.90 L597.50,261.90 L598.00,261.90 L598.50,261.90 L599.00,261.90 L599.50,261.90 L600.00,261.90 L600.50,261.90 L601.00,261.90 L601.50,261.90 L602.00,261.90 L602.50,261.90 L603.00,261.90 L603.50,261.90 L604.00,261.90 L604.50,261.90 L605.00,261.90 L605.50,261.90 L606.00,261.90 L606.50,261.90 L607.00,261.90 L607.50,261.90 L608.00,261.90 L608.50,261.90 L609.00,261.90 L609.50,261.90 L610.00,261.90 L610.50,261.90 L611.00,261.90 L611.50,261.90 L612.00,261.90 L612.50,261.90 L613.00,261.90 L613.50,261.90 L614.00,261.90 L614.50,261.90 L615.00,261.90 L615.50,261.90 L616.00,261.90 L616.50,261.90 L617.00,261.90 L617.50,261.90 L618.00,261.90 L618.50,261.90 L619.00,261.90 L619.50,261.90 L620.00,261.90 L620.50,261.90 L621.00,261.90 L621.50,261.90 L622.00,261.90 L622.50,261.90 L623.00,261.90 L623.50,261.90 L624.00,261.90 L624.50,261.90 L625.00,261.90 L625.50,261.90 L626.00,261.90 L626.50,261.90 L627.00,261.90 L627.50,261.90 L628.00,261.90 L628.50,261.90 L629.00,261.90 L629.50,261.90 L630.00,261.90 L630.50,261.90 L631.00,261.90 L631.50,261.90 L632.00,261.90 L632.50,261.90 L633.00,261.90 L633.50,261.90 L634.00,261.90 L634.50,261.90 L635.00,261.90 L635.50,261.90 L636.00,261.90 L636.50,261.90 L637.00,261.90 L637.50,261.90 L638.00,261.90 L638.50,261.90 L639.00,261.90 L639.50,261.90 L640.00,261.90 L640.50,261.90 L641.00,261.90 L641.50,261.90 L642.00,261.90 L642.50,261.90 L643.00,261.90 L643.50,261.90 L644.00,261.90 L644.50,261.90 L645.00,261.90 L645.50,261.90 L646.00,261.90 L646.50,261.90 L647.00,261.90 L647.50,261.90 L648.00,261.90 L648.50,261.90 L649.00,261.90 L649.50,261.90 L650.00,261.90 L650.50,261.90 L651.00,261.90 L651.50,261.90 L652.00,261.90 L652.50,261.90 L653.00,261.90 L653.50,261.90 L654.00,261.90 L654.50,261.90 L655.00,261.90 L655.50,261.90 L656.00,261.90 L656.50,261.90 L657.00,261.90 L657.50,261.90 L658.00,261.90 L658.50,261.90 L659.00,261.90 L659.50,261.90 L660.00,261.90 L660.50,261.90 L661.00,261.90 L661.50,261.90 L662.00,261.90 L662.50,261.90 L663.00,261.90 L663.50,261.90 L664.00,261.90 L664.50,261.90 L665.00,261.90 L665.50,261.90 L666.00,261.90 L666.50,261.90 L667.00,261.90 L667.50,261.90 L668.00,261.90 L668.50,261.90 L669.00,261.90 L669.50,261.90 L670.00,261.90 L670.50,261.90 L671.00,261.90 L671.50,261.90 L672.00,261.90 L672.50,261.90 L673.00,261.90 L673.50,261.90 L674.00,261.90 L674.50,261.90 L675.00,261.90 L675.50,261.90 L676.00,261.90 L676.50,261.90 L677.00,261.90 L677.50,261.90 L678.00,261.90 L678.50,261.90 L679.00,261.90 L679.50,261.90 L680.00,261.90 L680.50,261.90 L681.00,261.90 L681.50,261.90 L682.00,261.90 L682.50,261.90 L683.00,261.90 L683.50,261.90 L684.00,261.90 L684.50,261.90 L685.00,261.90 L685.50,261.90 L686.00,261.90 L686.50,261.90 L687.00,261.90 L687.50,261.90 L688.00,261.90 L688.50,261.90 L689.00,261.90 L689.50,261.90 L690.00,261.90 L690.50,261.90 L691.00,261.90 L691.50,261.90 L692.00,261.90 L692.50,261.90 L693.00,261.90 L693.50,261.90 L694.00,261.90 L694.50,261.90 L695.00,261.90 L695.50,261.90 L696.00,261.90 L696.50,261.90 L697.00,261.90 L697.50,261.90 L698.00,261.90 L698.50,261.90 L699.00,261.90 L699.50,261.90 L700.00,261.90 L700.50,261.90 L701.00,261.90 L701.50,261.90 L702.00,261.90 L702.50,261.90 L703.00,261.90 L703.50,261.90 L704.00,261.90 L704.50,261.90 L705.00,261.90 L705.50,261.90 L706.00,261.90 L706.50,261.90 L707.00,261.90 L707.50,261.90 L708.00,261.90 L708.50,261.90 L709.00,261.90 L709.50,261.90 L710.00,261.90 L710.50,261.90 L711.00,261.90 L711.50,261.90 L712.00,261.90 L712.50,261.90 L713.00,261.90 L713.50,261.90 L714.00,261.90 L714.50,261.90 L715.00,261.90 L715.50,261.90 L716.00,261.90 L716.50,261.90 L717.00,261.90 L717.50,261.90 L718.00,261.90 L718.50,261.90 L719.00,261.90 L719.50,261.90 L720.00,261.90 L720.50,261.90 L721.00,261.90 L721.50,261.90 L722.00,261.90 L722.50,261.90 L723.00,261.90 L723.50,261.90 L724.00,261.90 L724.50,261.90 L725.00,261.90 L725.50,261.90 L726.00,261.90 L726.50,261.90 L727.00,261.90 L727.50,261.90 L728.00,261.90 L728.50,261.90 L729.00,261.90 L729.50,261.90 L730.00,261.90 L730.50,261.90 L731.00,261.90 L731.50,261.90 L732.00,261.90 L732.50,261.90 L733.00,261.90 L733.50,261.90 L734.00,261.89 L734.50,261.88 L735.00,261.86 L735.50,261.83 L736.00,261.78 L736.50,261.72 L737.00,261.64 L737.50,261.55 L738.00,261.47 L738.50,261.42 L739.00,261.40 L739.50,261.42 L740.00,261.47 L740.50,261.55 L741.00,261.64 L741.50,261.72 L742.00,261.78 L742.50,261.83 L743.00,261.86 L743.50,255.08 L744.00,261.89 L744.50,261.90 L745.00,261.90 L745.50,261.90 L746.00,261.90 L746.50,261.90 L747.00,261.90 L747.50,261.90 L748.00,261.90 L748.50,261.90 L749.00,261.90 L749.50,261.90 L750.00,261.90 L750.50,261.90 L751.00,261.90 L751.50,261.90 L752.00,261.90 L752.50,261.90 L753.00,261.90 L753.50,261.90 L754.00,261.90 L754.50,261.90 L755.00,261.90 L755.50,261.90 L756.00,261.90 L756.50,261.90 L757.00,261.90 L757.50,261.90 L758.00,261.90 L758.50,261.90 L759.00,261.90 L759.50,261.90 L760.00,261.90 L760.50,261.90 L761.00,261.90 L761.50,261.90 L762.00,261.90 L762.50,261.90 L763.00,261.90 L763.50,261.90 L764.00,261.90 L764.50,261.90 L765.00,261.90 L765.50,261.90 L766.00,261.90 L766.50,261.90 L767.00,261.90 L767.50,261.90 L768.00,261.90 L768.50,261.90 L769.00,261.90 L769.50,261.90 L770.00,261.90 L770.50,261.90 L771.00,261.90 L771.50,261.90 L772.00,261.90 L772.50,261.90 L773.00,261.90 L773.50,261.90 L774.00,261.90 L774.50,261.90 L775.00,261.90 L775.50,261.90 L776.00,261.90 L776.50,261.90 L777.00,261.90 L777.50,261.90" fill="none" stroke="#6e6e6e" stroke-width="0.8"/>
<line x1="553.75" y1="261.9" x2="553.75" y2="233.8" stroke="#555" stroke-width="1.1"/>
<line x1="743.5" y1="261.9" x2="743.5" y2="255.2" stroke="#555" stroke-width="1.1"/>
<path d="M445.00,230.70 L445.50,230.88 L446.00,230.70 L446.50,230.86 L447.00,230.82 L447.50,230.73 L448.00,230.88 L448.50,230.74 L449.00,230.87 L449.50,230.76 L450.00,230.77 L450.50,230.87 L451.00,231.00 L451.50,230.78 L452.00,230.81 L452.50,230.94 L453.00,231.04 L453.50,230.91 L454.00,230.85 L454.50,231.03 L455.00,230.73 L455.50,230.98 L456.00,230.79 L456.50,230.73 L457.00,230.72 L457.50,230.77 L458.00,230.92 L458.50,230.70 L459.00,230.82 L459.50,230.82 L460.00,230.73 L460.50,230.77 L461.00,230.60 L461.50,230.58 L462.00,230.62 L462.50,230.75 L463.00,230.66 L463.50,230.61 L464.00,230.68 L464.50,230.62 L465.00,230.56 L465.50,230.70 L466.00,230.66 L466.50,230.50 L467.00,230.59 L467.50,230.56 L468.00,230.66 L468.50,230.61 L469.00,230.45 L469.50,230.66 L470.00,230.38 L470.50,230.47 L471.00,230.57 L471.50,230.37 L472.00,230.47 L472.50,230.32 L473.00,230.51 L473.50,230.54 L474.00,230.48 L474.50,230.57 L475.00,230.39 L475.50,230.51 L476.00,230.48 L476.50,230.48 L477.00,230.45 L477.50,230.57 L478.00,230.61 L478.50,230.47 L479.00,230.54 L479.50,230.35 L480.00,230.57 L480.50,230.56 L481.00,230.69 L481.50,230.64 L482.00,230.49 L482.50,230.53 L483.00,230.64 L483.50,230.45 L484.00,230.61 L484.50,230.53 L485.00,230.53 L485.50,230.54 L486.00,230.78 L486.50,230.60 L487.00,230.66 L487.50,230.73 L488.00,230.90 L488.50,230.67 L489.00,230.82 L489.50,230.87 L490.00,231.00 L490.50,231.01 L491.00,231.04 L491.50,230.88 L492.00,230.95 L492.50,230.96 L493.00,231.15 L493.50,231.19 L494.00,230.96 L494.50,230.99 L495.00,231.03 L495.50,231.06 L496.00,231.16 L496.50,231.21 L497.00,231.13 L497.50,231.07 L498.00,231.22 L498.50,231.22 L499.00,231.30 L499.50,231.45 L500.00,231.38 L500.50,231.34 L501.00,231.39 L501.50,231.42 L502.00,231.23 L502.50,231.51 L503.00,231.49 L503.50,231.53 L504.00,231.51 L504.50,231.39 L505.00,231.40 L505.50,231.31 L506.00,231.48 L506.50,231.30 L507.00,231.31 L507.50,231.35 L508.00,231.34 L508.50,231.40 L509.00,231.30 L509.50,231.28 L510.00,231.33 L510.50,231.31 L511.00,231.38 L511.50,231.27 L512.00,231.53 L512.50,231.44 L513.00,231.28 L513.50,231.31 L514.00,231.33 L514.50,231.32 L515.00,231.23 L515.50,231.45 L516.00,231.49 L516.50,231.30 L517.00,231.30 L517.50,231.15 L518.00,231.15 L518.50,231.21 L519.00,231.17 L519.50,231.33 L520.00,231.11 L520.50,231.05 L521.00,231.33 L521.50,231.18 L522.00,231.04 L522.50,231.16 L523.00,230.98 L523.50,231.13 L524.00,231.26 L524.50,231.21 L525.00,231.14 L525.50,230.99 L526.00,231.02 L526.50,230.94 L527.00,231.13 L527.50,231.04 L528.00,231.11 L528.50,230.96 L529.00,230.92 L529.50,231.11 L530.00,231.16 L530.50,231.11 L531.00,231.10 L531.50,231.10 L532.00,231.08 L532.50,230.91 L533.00,231.01 L533.50,230.96 L534.00,230.86 L534.50,230.87 L535.00,230.95 L535.50,230.95 L536.00,231.10 L536.50,231.20 L537.00,231.04 L537.50,231.21 L538.00,231.24 L538.50,231.25 L539.00,231.07 L539.50,231.04 L540.00,231.06 L540.50,231.07 L541.00,231.09 L541.50,231.24 L542.00,231.35 L542.50,231.35 L543.00,231.24 L543.50,231.30 L544.00,231.34 L544.50,231.07 L545.00,231.16 L545.50,231.00 L546.00,230.55 L546.50,230.23 L547.00,230.13 L547.50,230.04 L548.00,230.16 L548.50,229.97 L549.00,230.18 L549.50,230.39 L550.00,230.40 L550.50,230.50 L551.00,230.57 L551.50,230.41 L552.00,230.57 L552.50,231.10 L553.00,231.44 L553.50,213.80 L553.75,198.79 L554.00,213.59 L554.50,231.78 L555.00,231.75 L555.50,231.42 L556.00,230.85 L556.50,230.39 L557.00,230.15 L557.50,230.24 L558.00,230.57 L558.50,230.47 L559.00,230.53 L559.50,230.86 L560.00,230.92 L560.50,231.15 L561.00,231.14 L561.50,231.17 L562.00,231.56 L562.50,231.80 L563.00,231.87 L563.50,232.00 L564.00,231.91 L564.50,231.97 L565.00,231.87 L565.50,232.12 L566.00,231.94 L566.50,231.97 L567.00,232.01 L567.50,232.10 L568.00,231.94 L568.50,232.09 L569.00,231.94 L569.50,231.91 L570.00,231.83 L570.50,231.50 L571.00,231.38 L571.50,231.00 L572.00,230.70 L572.50,230.88 L573.00,230.80 L573.50,231.15 L574.00,231.48 L574.50,231.58 L575.00,231.53 L575.50,231.52 L576.00,231.43 L576.50,231.45 L577.00,231.26 L577.50,231.50 L578.00,231.49 L578.50,231.57 L579.00,231.75 L579.50,231.67 L580.00,231.68 L580.50,231.74 L581.00,231.77 L581.50,231.61 L582.00,231.65 L582.50,231.61 L583.00,231.60 L583.50,231.65 L584.00,231.57 L584.50,231.58 L585.00,231.56 L585.50,231.70 L586.00,231.62 L586.50,231.67 L587.00,231.69 L587.50,231.47 L588.00,231.57 L588.50,231.69 L589.00,231.66 L589.50,231.43 L590.00,231.43 L590.50,231.54 L591.00,231.43 L591.50,231.49 L592.00,231.44 L592.50,231.64 L593.00,231.69 L593.50,231.73 L594.00,231.51 L594.50,231.70 L595.00,231.70 L595.50,231.55 L596.00,231.80 L596.50,231.84 L597.00,231.62 L597.50,231.87 L598.00,231.72 L598.50,231.76 L599.00,231.94 L599.50,231.92 L600.00,231.72 L600.50,231.82 L601.00,231.87 L601.50,231.83 L602.00,231.80 L602.50,231.85 L603.00,232.00 L603.50,231.79 L604.00,231.97 L604.50,231.95 L605.00,231.83 L605.50,231.95 L606.00,232.06 L606.50,232.03 L607.00,231.90 L607.50,232.21 L608.00,232.16 L608.50,232.23 L609.00,231.96 L609.50,232.02 L610.00,231.96 L610.50,232.20 L611.00,232.05 L611.50,232.01 L612.00,232.11 L612.50,232.27 L613.00,232.24 L613.50,232.06 L614.00,232.03 L614.50,232.27 L615.00,232.16 L615.50,232.20 L616.00,232.00 L616.50,231.98 L617.00,232.18 L617.50,232.09 L618.00,231.96 L618.50,232.23 L619.00,232.12 L619.50,232.16 L620.00,231.92 L620.50,232.15 L621.00,231.88 L621.50,232.11 L622.00,231.96 L622.50,231.90 L623.00,231.95 L623.50,232.05 L624.00,231.81 L624.50,231.74 L625.00,231.83 L625.50,231.61 L626.00,231.18 L626.50,230.68 L627.00,230.66 L627.50,231.09 L628.00,231.15 L628.50,230.91 L629.00,230.98 L629.50,231.02 L630.00,231.28 L630.50,231.21 L631.00,231.21 L631.50,231.05 L632.00,231.11 L632.50,231.05 L633.00,231.30 L633.50,231.25 L634.00,231.12 L634.50,231.18 L635.00,231.30 L635.50,231.00 L636.00,231.19 L636.50,231.03 L637.00,231.01 L637.50,231.09 L638.00,230.91 L638.50,230.91 L639.00,230.94 L639.50,231.00 L640.00,230.76 L640.50,230.88 L641.00,230.81 L641.50,230.76 L642.00,230.66 L642.50,230.61 L643.00,230.49 L643.50,230.49 L644.00,230.44 L644.50,230.63 L645.00,230.45 L645.50,230.40 L646.00,230.35 L646.50,230.57 L647.00,230.56 L647.50,230.48 L648.00,230.34 L648.50,230.31 L649.00,230.31 L649.50,230.35 L650.00,230.24 L650.50,230.32 L651.00,230.25 L651.50,230.46 L652.00,230.45 L652.50,230.31 L653.00,230.21 L653.50,230.43 L654.00,230.21 L654.50,230.22 L655.00,230.10 L655.50,230.22 L656.00,230.25 L656.50,230.25 L657.00,230.16 L657.50,230.25 L658.00,230.09 L658.50,230.17 L659.00,230.12 L659.50,230.22 L660.00,230.10 L660.50,230.09 L661.00,230.19 L661.50,230.16 L662.00,230.28 L662.50,230.26 L663.00,230.33 L663.50,230.30 L664.00,230.32 L664.50,230.37 L665.00,230.21 L665.50,230.19 L666.00,230.40 L666.50,230.13 L667.00,230.31 L667.50,230.29 L668.00,230.09 L668.50,230.34 L669.00,230.35 L669.50,230.26 L670.00,230.29 L670.50,230.31 L671.00,230.09 L671.50,230.20 L672.00,230.18 L672.50,230.28 L673.00,230.26 L673.50,230.25 L674.00,230.16 L674.50,230.25 L675.00,230.17 L675.50,230.15 L676.00,229.99 L676.50,229.91 L677.00,229.92 L677.50,229.97 L678.00,229.87 L678.50,230.08 L679.00,229.97 L679.50,229.97 L680.00,229.95 L680.50,229.94 L681.00,229.85 L681.50,229.67 L682.00,229.90 L682.50,229.86 L683.00,229.75 L683.50,229.73 L684.00,229.75 L684.50,229.53 L685.00,229.71 L685.50,229.53 L686.00,229.44 L686.50,229.47 L687.00,229.59 L687.50,229.39 L688.00,229.53 L688.50,229.58 L689.00,229.40 L689.50,229.33 L690.00,229.33 L690.50,229.37 L691.00,229.37 L691.50,229.29 L692.00,229.27 L692.50,229.06 L693.00,229.06 L693.50,229.07 L694.00,229.20 L694.50,229.03 L695.00,229.09 L695.50,228.89 L696.00,228.89 L696.50,228.93 L697.00,229.04 L697.50,229.03 L698.00,229.01 L698.50,228.87 L699.00,228.93 L699.50,228.90 L700.00,229.08 L700.50,228.96 L701.00,229.21 L701.50,228.98 L702.00,229.22 L702.50,229.21 L703.00,228.91 L703.50,229.05 L704.00,229.16 L704.50,229.21 L705.00,229.05 L705.50,228.78 L706.00,227.70 L706.50,226.38 L707.00,224.53 L707.50,223.46 L708.00,223.06 L708.50,223.33 L709.00,223.35 L709.50,222.84 L710.00,222.96 L710.50,223.02 L711.00,223.39 L711.50,223.41 L712.00,223.08 L712.50,223.06 L713.00,222.91 L713.50,223.01 L714.00,223.80 L714.50,225.46 L715.00,227.16 L715.50,228.52 L716.00,229.06 L716.50,230.20 L717.00,230.26 L717.50,230.50 L718.00,230.31 L718.50,230.62 L719.00,230.72 L719.50,230.56 L720.00,230.89 L720.50,230.90 L721.00,231.03 L721.50,230.91 L722.00,231.00 L722.50,231.08 L723.00,231.35 L723.50,231.29 L724.00,231.29 L724.50,231.38 L725.00,231.40 L725.50,231.40 L726.00,231.48 L726.50,231.68 L727.00,231.46 L727.50,231.63 L728.00,231.37 L728.50,231.34 L729.00,231.37 L729.50,231.23 L730.00,231.25 L730.50,231.39 L731.00,231.32 L731.50,231.26 L732.00,231.16 L732.50,231.20 L733.00,231.17 L733.50,231.00 L734.00,230.85 L734.50,229.25 L735.00,227.61 L735.50,226.38 L736.00,225.81 L736.50,226.92 L737.00,227.70 L737.50,228.02 L738.00,227.65 L738.50,226.69 L739.00,227.13 L739.50,228.02 L740.00,228.23 L740.50,227.62 L741.00,227.14 L741.50,227.42 L742.00,228.45 L742.50,228.38 L743.00,225.77 L743.50,207.45 L744.00,226.71 L744.50,229.04 L745.00,229.45 L745.50,230.18 L746.00,230.20 L746.50,230.28 L747.00,231.01 L747.50,231.29 L748.00,231.09 L748.50,231.05 L749.00,231.24 L749.50,231.30 L750.00,231.60 L750.50,231.53 L751.00,231.73 L751.50,231.83 L752.00,232.13 L752.50,232.42 L753.00,232.38 L753.50,232.19 L754.00,232.23 L754.50,232.35 L755.00,232.27 L755.50,232.26 L756.00,232.08 L756.50,232.24 L757.00,232.73 L757.50,232.15 L758.00,232.42 L758.50,232.51 L759.00,232.68 L759.50,232.23 L760.00,232.27 L760.50,232.28 L761.00,232.39 L761.50,232.42 L762.00,232.78 L762.50,232.71 L763.00,232.73 L763.50,232.13 L764.00,232.14 L764.50,232.62 L765.00,232.76 L765.50,232.47 L766.00,232.55 L766.50,232.14 L767.00,232.42 L767.50,232.81 L768.00,232.74 L768.50,232.77 L769.00,232.86 L769.50,232.35 L770.00,232.26 L770.50,232.30 L771.00,232.57 L771.50,232.69 L772.00,232.88 L772.50,232.73 L773.00,232.69 L773.50,232.78 L774.00,232.57 L774.50,232.64 L775.00,232.29 L775.50,232.82 L776.00,232.44 L776.50,232.93 L777.00,232.75 L777.50,232.51" fill="none" stroke="#7c3248" stroke-width="1.25" stroke-linejoin="round"/>
<path d="M445.00,198.60 L445.50,198.75 L446.00,198.80 L446.50,198.63 L447.00,198.65 L447.50,198.82 L448.00,198.86 L448.50,198.82 L449.00,198.79 L449.50,198.94 L450.00,198.77 L450.50,198.89 L451.00,198.96 L451.50,199.14 L452.00,199.06 L452.50,199.16 L453.00,199.05 L453.50,198.99 L454.00,199.01 L454.50,199.26 L455.00,199.19 L455.50,199.08 L456.00,199.00 L456.50,199.17 L457.00,199.24 L457.50,199.17 L458.00,199.13 L458.50,199.27 L459.00,199.36 L459.50,199.14 L460.00,199.08 L460.50,199.19 L461.00,199.22 L461.50,199.30 L462.00,199.15 L462.50,199.34 L463.00,199.32 L463.50,199.25 L464.00,199.15 L464.50,199.39 L465.00,199.17 L465.50,199.33 L466.00,199.14 L466.50,199.13 L467.00,199.29 L467.50,199.13 L468.00,199.34 L468.50,199.18 L469.00,199.07 L469.50,199.07 L470.00,199.12 L470.50,199.19 L471.00,199.27 L471.50,199.00 L472.00,199.06 L472.50,198.99 L473.00,199.22 L473.50,198.94 L474.00,198.90 L474.50,198.89 L475.00,198.99 L475.50,199.13 L476.00,199.12 L476.50,199.06 L477.00,199.13 L477.50,199.09 L478.00,198.89 L478.50,198.83 L479.00,199.06 L479.50,198.99 L480.00,198.76 L480.50,198.95 L481.00,198.85 L481.50,198.84 L482.00,198.82 L482.50,198.76 L483.00,198.71 L483.50,198.79 L484.00,198.81 L484.50,199.00 L485.00,198.74 L485.50,199.01 L486.00,198.77 L486.50,198.82 L487.00,198.97 L487.50,198.97 L488.00,198.86 L488.50,198.74 L489.00,198.88 L489.50,198.86 L490.00,199.05 L490.50,198.82 L491.00,198.89 L491.50,199.07 L492.00,198.81 L492.50,198.95 L493.00,199.09 L493.50,199.10 L494.00,198.88 L494.50,198.90 L495.00,198.93 L495.50,199.22 L496.00,199.03 L496.50,199.21 L497.00,199.28 L497.50,199.12 L498.00,199.13 L498.50,199.37 L499.00,199.28 L499.50,199.19 L500.00,199.37 L500.50,199.26 L501.00,199.27 L501.50,199.21 L502.00,199.48 L502.50,199.56 L503.00,199.49 L503.50,199.62 L504.00,199.35 L504.50,199.44 L505.00,199.54 L505.50,199.72 L506.00,199.74 L506.50,199.58 L507.00,199.56 L507.50,199.64 L508.00,199.69 L508.50,199.85 L509.00,199.63 L509.50,199.85 L510.00,199.84 L510.50,199.89 L511.00,199.89 L511.50,199.85 L512.00,199.78 L512.50,199.79 L513.00,199.82 L513.50,199.96 L514.00,199.75 L514.50,199.80 L515.00,199.99 L515.50,199.83 L516.00,199.78 L516.50,199.78 L517.00,199.95 L517.50,199.88 L518.00,200.09 L518.50,200.06 L519.00,200.10 L519.50,199.86 L520.00,199.80 L520.50,199.81 L521.00,199.93 L521.50,200.00 L522.00,199.91 L522.50,199.83 L523.00,199.88 L523.50,199.94 L524.00,199.95 L524.50,199.96 L525.00,199.99 L525.50,199.92 L526.00,199.73 L526.50,199.95 L527.00,199.76 L527.50,199.84 L528.00,199.77 L528.50,199.87 L529.00,199.68 L529.50,199.69 L530.00,199.67 L530.50,199.63 L531.00,199.85 L531.50,199.74 L532.00,199.65 L532.50,199.65 L533.00,199.83 L533.50,199.67 L534.00,199.57 L534.50,199.74 L535.00,199.68 L535.50,199.78 L536.00,199.48 L536.50,199.59 L537.00,199.69 L537.50,199.69 L538.00,199.71 L538.50,199.42 L539.00,199.50 L539.50,199.44 L540.00,199.46 L540.50,199.70 L541.00,199.58 L541.50,199.69 L542.00,199.51 L542.50,199.66 L543.00,199.52 L543.50,199.45 L544.00,199.59 L544.50,199.59 L545.00,199.21 L545.50,199.11 L546.00,198.69 L546.50,198.24 L547.00,198.26 L547.50,198.18 L548.00,198.11 L548.50,198.08 L549.00,198.24 L549.50,198.40 L550.00,198.45 L550.50,198.48 L551.00,198.47 L551.50,198.49 L552.00,198.67 L552.50,199.25 L553.00,199.55 L553.50,183.50 L553.75,169.80 L554.00,183.29 L554.50,199.65 L555.00,199.66 L555.50,199.50 L556.00,199.06 L556.50,198.37 L557.00,198.29 L557.50,198.60 L558.00,198.54 L558.50,198.52 L559.00,198.64 L559.50,199.06 L560.00,199.09 L560.50,199.28 L561.00,199.24 L561.50,199.50 L562.00,200.04 L562.50,200.33 L563.00,200.23 L563.50,200.22 L564.00,200.42 L564.50,200.28 L565.00,200.24 L565.50,200.55 L566.00,200.42 L566.50,200.56 L567.00,200.45 L567.50,200.62 L568.00,200.50 L568.50,200.42 L569.00,200.37 L569.50,200.53 L570.00,200.50 L570.50,200.44 L571.00,199.95 L571.50,199.83 L572.00,199.53 L572.50,199.52 L573.00,199.55 L573.50,199.86 L574.00,200.20 L574.50,200.50 L575.00,200.28 L575.50,200.35 L576.00,200.37 L576.50,200.38 L577.00,200.17 L577.50,200.25 L578.00,200.62 L578.50,200.70 L579.00,200.58 L579.50,200.45 L580.00,200.73 L580.50,200.55 L581.00,200.71 L581.50,200.61 L582.00,200.66 L582.50,200.44 L583.00,200.63 L583.50,200.44 L584.00,200.48 L584.50,200.61 L585.00,200.59 L585.50,200.37 L586.00,200.37 L586.50,200.42 L587.00,200.44 L587.50,200.38 L588.00,200.29 L588.50,200.31 L589.00,200.45 L589.50,200.50 L590.00,200.21 L590.50,200.37 L591.00,200.42 L591.50,200.18 L592.00,200.42 L592.50,200.18 L593.00,200.33 L593.50,200.30 L594.00,200.32 L594.50,200.21 L595.00,200.24 L595.50,200.28 L596.00,200.23 L596.50,200.30 L597.00,200.23 L597.50,200.23 L598.00,200.09 L598.50,200.28 L599.00,200.24 L599.50,200.16 L600.00,200.34 L600.50,200.34 L601.00,200.23 L601.50,200.14 L602.00,200.24 L602.50,200.12 L603.00,200.13 L603.50,200.22 L604.00,200.12 L604.50,200.23 L605.00,200.26 L605.50,200.11 L606.00,200.31 L606.50,200.13 L607.00,200.35 L607.50,200.37 L608.00,200.29 L608.50,200.15 L609.00,200.30 L609.50,200.27 L610.00,200.46 L610.50,200.21 L611.00,200.45 L611.50,200.50 L612.00,200.43 L612.50,200.47 L613.00,200.28 L613.50,200.54 L614.00,200.39 L614.50,200.55 L615.00,200.55 L615.50,200.31 L616.00,200.52 L616.50,200.58 L617.00,200.31 L617.50,200.41 L618.00,200.54 L618.50,200.36 L619.00,200.60 L619.50,200.41 L620.00,200.58 L620.50,200.37 L621.00,200.49 L621.50,200.63 L622.00,200.40 L622.50,200.42 L623.00,200.49 L623.50,200.43 L624.00,200.34 L624.50,200.38 L625.00,200.35 L625.50,200.46 L626.00,199.85 L626.50,199.21 L627.00,199.04 L627.50,199.81 L628.00,199.67 L628.50,199.49 L629.00,199.46 L629.50,199.67 L630.00,200.13 L630.50,200.11 L631.00,200.07 L631.50,200.12 L632.00,199.88 L632.50,200.22 L633.00,200.16 L633.50,200.12 L634.00,200.26 L634.50,200.07 L635.00,200.28 L635.50,200.12 L636.00,200.02 L636.50,200.12 L637.00,199.98 L637.50,199.86 L638.00,200.01 L638.50,199.75 L639.00,199.96 L639.50,199.75 L640.00,199.83 L640.50,199.91 L641.00,199.74 L641.50,199.73 L642.00,199.58 L642.50,199.44 L643.00,199.41 L643.50,199.41 L644.00,199.52 L644.50,199.43 L645.00,199.41 L645.50,199.50 L646.00,199.22 L646.50,199.21 L647.00,199.31 L647.50,199.07 L648.00,199.03 L648.50,199.10 L649.00,198.99 L649.50,199.03 L650.00,198.96 L650.50,199.04 L651.00,199.01 L651.50,198.85 L652.00,198.95 L652.50,198.88 L653.00,198.74 L653.50,198.97 L654.00,198.72 L654.50,198.66 L655.00,198.62 L655.50,198.77 L656.00,198.82 L656.50,198.77 L657.00,198.62 L657.50,198.56 L658.00,198.46 L658.50,198.65 L659.00,198.60 L659.50,198.52 L660.00,198.60 L660.50,198.52 L661.00,198.67 L661.50,198.59 L662.00,198.43 L662.50,198.63 L663.00,198.34 L663.50,198.49 L664.00,198.45 L664.50,198.39 L665.00,198.32 L665.50,198.55 L666.00,198.30 L666.50,198.47 L667.00,198.60 L667.50,198.34 L668.00,198.36 L668.50,198.49 L669.00,198.46 L669.50,198.50 L670.00,198.56 L670.50,198.36 L671.00,198.40 L671.50,198.40 L672.00,198.32 L672.50,198.59 L673.00,198.56 L673.50,198.54 L674.00,198.32 L674.50,198.59 L675.00,198.56 L675.50,198.47 L676.00,198.56 L676.50,198.47 L677.00,198.40 L677.50,198.36 L678.00,198.40 L678.50,198.34 L679.00,198.44 L679.50,198.57 L680.00,198.55 L680.50,198.59 L681.00,198.55 L681.50,198.40 L682.00,198.49 L682.50,198.44 L683.00,198.55 L683.50,198.46 L684.00,198.37 L684.50,198.48 L685.00,198.57 L685.50,198.32 L686.00,198.52 L686.50,198.23 L687.00,198.30 L687.50,198.27 L688.00,198.42 L688.50,198.47 L689.00,198.39 L689.50,198.24 L690.00,198.40 L690.50,198.20 L691.00,198.15 L691.50,198.35 L692.00,198.24 L692.50,198.24 L693.00,198.21 L693.50,198.28 L694.00,198.10 L694.50,198.19 L695.00,198.12 L695.50,198.15 L696.00,197.99 L696.50,198.06 L697.00,197.99 L697.50,197.88 L698.00,197.82 L698.50,197.93 L699.00,197.73 L699.50,197.97 L700.00,197.71 L700.50,197.66 L701.00,197.67 L701.50,197.92 L702.00,197.73 L702.50,197.65 L703.00,197.61 L703.50,197.60 L704.00,197.80 L704.50,197.78 L705.00,197.79 L705.50,197.50 L706.00,195.76 L706.50,193.67 L707.00,191.29 L707.50,189.71 L708.00,189.34 L708.50,189.56 L709.00,189.11 L709.50,189.00 L710.00,188.87 L710.50,189.10 L711.00,189.18 L711.50,189.30 L712.00,189.00 L712.50,188.64 L713.00,188.86 L713.50,189.20 L714.00,190.27 L714.50,192.48 L715.00,194.86 L715.50,196.76 L716.00,197.54 L716.50,198.60 L717.00,198.88 L717.50,198.77 L718.00,198.88 L718.50,198.98 L719.00,198.92 L719.50,199.06 L720.00,199.14 L720.50,199.35 L721.00,199.31 L721.50,199.36 L722.00,199.64 L722.50,199.56 L723.00,199.75 L723.50,199.74 L724.00,199.63 L724.50,199.82 L725.00,199.90 L725.50,200.08 L726.00,200.02 L726.50,200.10 L727.00,200.01 L727.50,199.87 L728.00,200.04 L728.50,199.75 L729.00,199.95 L729.50,199.71 L730.00,199.62 L730.50,199.65 L731.00,199.79 L731.50,199.82 L732.00,199.47 L732.50,199.59 L733.00,199.56 L733.50,199.62 L734.00,199.16 L734.50,197.27 L735.00,194.57 L735.50,193.10 L736.00,191.97 L736.50,193.83 L737.00,194.92 L737.50,195.46 L738.00,194.68 L738.50,193.61 L739.00,193.96 L739.50,195.46 L740.00,195.61 L740.50,194.76 L741.00,193.93 L741.50,194.70 L742.00,195.94 L742.50,195.91 L743.00,192.91 L743.50,175.14 L744.00,194.58 L744.50,196.82 L745.00,197.64 L745.50,197.68 L746.00,198.25 L746.50,198.68 L747.00,199.47 L747.50,199.49 L748.00,199.68 L748.50,200.27 L749.00,200.03 L749.50,200.38 L750.00,200.60 L750.50,200.90 L751.00,201.04 L751.50,201.08 L752.00,200.97 L752.50,201.05 L753.00,201.00 L753.50,201.55 L754.00,201.48 L754.50,201.58 L755.00,201.21 L755.50,201.43 L756.00,201.68 L756.50,201.55 L757.00,201.24 L757.50,201.48 L758.00,201.78 L758.50,201.33 L759.00,201.29 L759.50,201.37 L760.00,201.65 L760.50,201.78 L761.00,201.29 L761.50,201.28 L762.00,201.34 L762.50,201.39 L763.00,201.52 L763.50,201.26 L764.00,201.38 L764.50,201.27 L765.00,201.82 L765.50,201.64 L766.00,201.20 L766.50,201.80 L767.00,201.19 L767.50,201.39 L768.00,201.81 L768.50,201.67 L769.00,201.63 L769.50,201.42 L770.00,201.25 L770.50,201.56 L771.00,201.18 L771.50,201.25 L772.00,201.38 L772.50,201.13 L773.00,201.39 L773.50,201.67 L774.00,201.61 L774.50,201.47 L775.00,201.57 L775.50,201.45 L776.00,201.23 L776.50,201.56 L777.00,201.43 L777.50,201.67" fill="none" stroke="#92364c" stroke-width="1.25" stroke-linejoin="round"/>
<path d="M445.00,169.63 L445.50,169.68 L446.00,169.73 L446.50,169.63 L447.00,169.57 L447.50,169.73 L448.00,169.79 L448.50,169.76 L449.00,169.75 L449.50,169.80 L450.00,169.76 L450.50,169.76 L451.00,169.71 L451.50,169.68 L452.00,169.79 L452.50,169.63 L453.00,169.75 L453.50,169.88 L454.00,169.88 L454.50,169.87 L455.00,169.76 L455.50,169.84 L456.00,169.87 L456.50,169.94 L457.00,169.89 L457.50,170.00 L458.00,170.10 L458.50,169.88 L459.00,170.05 L459.50,170.11 L460.00,170.01 L460.50,170.06 L461.00,170.24 L461.50,169.96 L462.00,170.14 L462.50,170.04 L463.00,170.25 L463.50,170.32 L464.00,170.21 L464.50,170.09 L465.00,170.26 L465.50,170.27 L466.00,170.34 L466.50,170.29 L467.00,170.35 L467.50,170.42 L468.00,170.34 L468.50,170.32 L469.00,170.50 L469.50,170.28 L470.00,170.44 L470.50,170.35 L471.00,170.48 L471.50,170.28 L472.00,170.57 L472.50,170.37 L473.00,170.28 L473.50,170.35 L474.00,170.39 L474.50,170.27 L475.00,170.40 L475.50,170.40 L476.00,170.49 L476.50,170.37 L477.00,170.34 L477.50,170.32 L478.00,170.48 L478.50,170.54 L479.00,170.39 L479.50,170.29 L480.00,170.46 L480.50,170.32 L481.00,170.25 L481.50,170.21 L482.00,170.41 L482.50,170.40 L483.00,170.33 L483.50,170.26 L484.00,170.28 L484.50,170.15 L485.00,170.37 L485.50,170.16 L486.00,170.23 L486.50,170.27 L487.00,170.26 L487.50,170.13 L488.00,170.05 L488.50,170.12 L489.00,169.96 L489.50,170.17 L490.00,170.00 L490.50,170.14 L491.00,169.94 L491.50,169.95 L492.00,169.90 L492.50,169.94 L493.00,169.84 L493.50,169.77 L494.00,169.99 L494.50,169.83 L495.00,169.81 L495.50,169.81 L496.00,169.86 L496.50,169.83 L497.00,169.89 L497.50,169.89 L498.00,169.78 L498.50,169.96 L499.00,169.93 L499.50,169.67 L500.00,169.91 L500.50,169.93 L501.00,169.89 L501.50,169.68 L502.00,169.90 L502.50,169.84 L503.00,169.65 L503.50,169.65 L504.00,169.95 L504.50,169.86 L505.00,169.74 L505.50,169.70 L506.00,169.72 L506.50,169.76 L507.00,169.94 L507.50,169.82 L508.00,169.77 L508.50,170.02 L509.00,170.00 L509.50,169.82 L510.00,170.06 L510.50,169.99 L511.00,170.06 L511.50,170.04 L512.00,170.13 L512.50,170.12 L513.00,170.15 L513.50,169.97 L514.00,170.15 L514.50,170.11 L515.00,170.20 L515.50,170.13 L516.00,170.29 L516.50,170.20 L517.00,170.13 L517.50,170.14 L518.00,170.13 L518.50,170.27 L519.00,170.15 L519.50,170.30 L520.00,170.21 L520.50,170.34 L521.00,170.36 L521.50,170.40 L522.00,170.52 L522.50,170.26 L523.00,170.54 L523.50,170.44 L524.00,170.48 L524.50,170.53 L525.00,170.60 L525.50,170.46 L526.00,170.49 L526.50,170.67 L527.00,170.40 L527.50,170.59 L528.00,170.59 L528.50,170.41 L529.00,170.60 L529.50,170.62 L530.00,170.71 L530.50,170.52 L531.00,170.73 L531.50,170.57 L532.00,170.57 L532.50,170.70 L533.00,170.42 L533.50,170.63 L534.00,170.59 L534.50,170.50 L535.00,170.66 L535.50,170.49 L536.00,170.52 L536.50,170.52 L537.00,170.59 L537.50,170.40 L538.00,170.46 L538.50,170.44 L539.00,170.47 L539.50,170.54 L540.00,170.35 L540.50,170.51 L541.00,170.36 L541.50,170.37 L542.00,170.28 L542.50,170.33 L543.00,170.46 L543.50,170.32 L544.00,170.31 L544.50,170.09 L545.00,169.95 L545.50,169.66 L546.00,169.30 L546.50,168.96 L547.00,168.95 L547.50,168.68 L548.00,168.78 L548.50,168.75 L549.00,168.66 L549.50,168.61 L550.00,168.85 L550.50,168.82 L551.00,168.73 L551.50,168.85 L552.00,169.05 L552.50,169.57 L553.00,169.92 L553.50,153.95 L553.75,140.45 L554.00,153.85 L554.50,169.90 L555.00,169.81 L555.50,169.53 L556.00,169.06 L556.50,168.37 L557.00,168.39 L557.50,168.43 L558.00,168.54 L558.50,168.32 L559.00,168.43 L559.50,168.58 L560.00,169.02 L560.50,169.16 L561.00,169.08 L561.50,169.21 L562.00,169.73 L562.50,169.96 L563.00,169.97 L563.50,169.91 L564.00,169.94 L564.50,170.00 L565.00,169.98 L565.50,170.03 L566.00,170.11 L566.50,170.22 L567.00,169.96 L567.50,170.14 L568.00,169.98 L568.50,170.03 L569.00,170.26 L569.50,170.17 L570.00,170.23 L570.50,169.94 L571.00,169.58 L571.50,169.43 L572.00,169.28 L572.50,169.35 L573.00,169.53 L573.50,169.65 L574.00,169.91 L574.50,170.00 L575.00,170.23 L575.50,170.06 L576.00,169.98 L576.50,169.92 L577.00,169.97 L577.50,170.31 L578.00,170.26 L578.50,170.63 L579.00,170.41 L579.50,170.69 L580.00,170.47 L580.50,170.45 L581.00,170.69 L581.50,170.55 L582.00,170.72 L582.50,170.56 L583.00,170.53 L583.50,170.77 L584.00,170.76 L584.50,170.81 L585.00,170.77 L585.50,170.57 L586.00,170.75 L586.50,170.78 L587.00,170.70 L587.50,170.86 L588.00,170.64 L588.50,170.86 L589.00,170.78 L589.50,170.55 L590.00,170.55 L590.50,170.75 L591.00,170.80 L591.50,170.55 L592.00,170.62 L592.50,170.74 L593.00,170.55 L593.50,170.76 L594.00,170.63 L594.50,170.48 L595.00,170.57 L595.50,170.62 L596.00,170.56 L596.50,170.62 L597.00,170.44 L597.50,170.63 L598.00,170.48 L598.50,170.55 L599.00,170.53 L599.50,170.44 L600.00,170.41 L600.50,170.52 L601.00,170.55 L601.50,170.48 L602.00,170.38 L602.50,170.27 L603.00,170.18 L603.50,170.44 L604.00,170.33 L604.50,170.35 L605.00,170.17 L605.50,170.23 L606.00,170.33 L606.50,170.26 L607.00,170.16 L607.50,170.05 L608.00,170.06 L608.50,170.19 L609.00,170.00 L609.50,170.08 L610.00,170.03 L610.50,170.11 L611.00,170.06 L611.50,169.87 L612.00,169.76 L612.50,169.83 L613.00,169.86 L613.50,169.90 L614.00,169.96 L614.50,169.97 L615.00,169.68 L615.50,169.92 L616.00,169.90 L616.50,169.91 L617.00,169.80 L617.50,169.70 L618.00,169.87 L618.50,169.85 L619.00,169.81 L619.50,169.87 L620.00,169.68 L620.50,169.59 L621.00,169.74 L621.50,169.81 L622.00,169.62 L622.50,169.79 L623.00,169.85 L623.50,169.62 L624.00,169.74 L624.50,169.76 L625.00,169.67 L625.50,169.36 L626.00,168.54 L626.50,167.60 L627.00,167.72 L627.50,168.54 L628.00,168.56 L628.50,168.31 L629.00,168.22 L629.50,168.56 L630.00,169.17 L630.50,169.43 L631.00,169.38 L631.50,169.23 L632.00,169.26 L632.50,169.42 L633.00,169.42 L633.50,169.51 L634.00,169.56 L634.50,169.74 L635.00,169.63 L635.50,169.69 L636.00,169.63 L636.50,169.66 L637.00,169.54 L637.50,169.50 L638.00,169.79 L638.50,169.58 L639.00,169.48 L639.50,169.64 L640.00,169.67 L640.50,169.46 L641.00,169.58 L641.50,169.48 L642.00,169.52 L642.50,169.34 L643.00,169.32 L643.50,169.61 L644.00,169.54 L644.50,169.40 L645.00,169.40 L645.50,169.27 L646.00,169.41 L646.50,169.27 L647.00,169.41 L647.50,169.32 L648.00,169.30 L648.50,169.32 L649.00,169.05 L649.50,168.95 L650.00,168.97 L650.50,168.92 L651.00,168.85 L651.50,168.81 L652.00,168.93 L652.50,168.99 L653.00,168.82 L653.50,168.93 L654.00,168.88 L654.50,168.57 L655.00,168.70 L655.50,168.59 L656.00,168.46 L656.50,168.69 L657.00,168.42 L657.50,168.47 L658.00,168.45 L658.50,168.51 L659.00,168.38 L659.50,168.25 L660.00,168.22 L660.50,168.09 L661.00,168.31 L661.50,168.27 L662.00,167.99 L662.50,167.89 L663.00,167.92 L663.50,167.91 L664.00,168.05 L664.50,168.01 L665.00,167.95 L665.50,167.66 L666.00,167.87 L666.50,167.81 L667.00,167.76 L667.50,167.83 L668.00,167.51 L668.50,167.50 L669.00,167.67 L669.50,167.70 L670.00,167.59 L670.50,167.45 L671.00,167.52 L671.50,167.55 L672.00,167.32 L672.50,167.37 L673.00,167.33 L673.50,167.27 L674.00,167.37 L674.50,167.25 L675.00,167.26 L675.50,167.22 L676.00,167.38 L676.50,167.16 L677.00,167.37 L677.50,167.20 L678.00,167.14 L678.50,167.42 L679.00,167.19 L679.50,167.41 L680.00,167.39 L680.50,167.40 L681.00,167.15 L681.50,167.25 L682.00,167.14 L682.50,167.41 L683.00,167.38 L683.50,167.32 L684.00,167.27 L684.50,167.23 L685.00,167.39 L685.50,167.29 L686.00,167.34 L686.50,167.19 L687.00,167.22 L687.50,167.17 L688.00,167.39 L688.50,167.34 L689.00,167.22 L689.50,167.46 L690.00,167.27 L690.50,167.32 L691.00,167.25 L691.50,167.29 L692.00,167.47 L692.50,167.32 L693.00,167.27 L693.50,167.38 L694.00,167.32 L694.50,167.51 L695.00,167.26 L695.50,167.54 L696.00,167.25 L696.50,167.52 L697.00,167.44 L697.50,167.30 L698.00,167.38 L698.50,167.32 L699.00,167.31 L699.50,167.28 L700.00,167.12 L700.50,167.32 L701.00,167.32 L701.50,167.29 L702.00,167.02 L702.50,167.08 L703.00,167.26 L703.50,166.99 L704.00,167.20 L704.50,167.06 L705.00,167.27 L705.50,166.62 L706.00,165.10 L706.50,162.33 L707.00,159.58 L707.50,157.53 L708.00,157.37 L708.50,157.49 L709.00,157.17 L709.50,156.83 L710.00,156.80 L710.50,156.83 L711.00,157.35 L711.50,157.31 L712.00,157.01 L712.50,156.80 L713.00,156.73 L713.50,156.96 L714.00,158.22 L714.50,160.72 L715.00,163.73 L715.50,166.01 L716.00,166.90 L716.50,167.94 L717.00,168.13 L717.50,168.21 L718.00,168.30 L718.50,168.29 L719.00,168.23 L719.50,168.24 L720.00,168.51 L720.50,168.47 L721.00,168.63 L721.50,168.47 L722.00,168.77 L722.50,168.68 L723.00,168.90 L723.50,168.97 L724.00,168.91 L724.50,168.82 L725.00,169.17 L725.50,169.10 L726.00,169.28 L726.50,169.04 L727.00,168.97 L727.50,169.14 L728.00,168.94 L728.50,168.83 L729.00,168.86 L729.50,168.88 L730.00,168.65 L730.50,168.78 L731.00,168.71 L731.50,168.69 L732.00,168.52 L732.50,168.67 L733.00,168.67 L733.50,168.64 L734.00,168.13 L734.50,165.67 L735.00,162.10 L735.50,160.08 L736.00,158.63 L736.50,161.01 L737.00,162.71 L737.50,163.29 L738.00,162.06 L738.50,160.75 L739.00,161.35 L739.50,162.91 L740.00,163.61 L740.50,161.95 L741.00,160.87 L741.50,161.79 L742.00,163.51 L742.50,163.74 L743.00,160.34 L743.50,145.27 L744.00,162.49 L744.50,164.76 L745.00,165.42 L745.50,166.28 L746.00,166.82 L746.50,167.27 L747.00,167.82 L747.50,167.78 L748.00,168.66 L748.50,168.85 L749.00,168.64 L749.50,168.93 L750.00,169.40 L750.50,169.59 L751.00,169.60 L751.50,169.63 L752.00,169.96 L752.50,169.89 L753.00,170.31 L753.50,170.58 L754.00,170.15 L754.50,170.51 L755.00,170.68 L755.50,170.31 L756.00,170.81 L756.50,170.91 L757.00,170.54 L757.50,170.58 L758.00,170.89 L758.50,170.68 L759.00,170.60 L759.50,170.99 L760.00,170.88 L760.50,170.61 L761.00,170.54 L761.50,170.61 L762.00,170.67 L762.50,171.05 L763.00,170.92 L763.50,170.99 L764.00,170.92 L764.50,170.94 L765.00,170.37 L765.50,170.69 L766.00,171.00 L766.50,170.97 L767.00,170.48 L767.50,170.60 L768.00,170.74 L768.50,170.54 L769.00,170.65 L769.50,170.32 L770.00,170.57 L770.50,170.61 L771.00,170.26 L771.50,170.34 L772.00,170.91 L772.50,170.77 L773.00,170.88 L773.50,170.65 L774.00,170.77 L774.50,170.82 L775.00,170.81 L775.50,170.20 L776.00,170.62 L776.50,170.35 L777.00,170.64 L777.50,170.35" fill="none" stroke="#ac3850" stroke-width="1.25" stroke-linejoin="round"/>
<path d="M445.00,142.16 L445.50,142.05 L446.00,141.92 L446.50,141.99 L447.00,141.95 L447.50,142.10 L448.00,141.87 L448.50,141.86 L449.00,141.96 L449.50,141.77 L450.00,141.91 L450.50,142.01 L451.00,141.85 L451.50,141.75 L452.00,141.80 L452.50,141.80 L453.00,141.66 L453.50,141.64 L454.00,141.62 L454.50,141.66 L455.00,141.68 L455.50,141.63 L456.00,141.60 L456.50,141.53 L457.00,141.66 L457.50,141.75 L458.00,141.66 L458.50,141.63 L459.00,141.65 L459.50,141.50 L460.00,141.65 L460.50,141.56 L461.00,141.58 L461.50,141.59 L462.00,141.54 L462.50,141.49 L463.00,141.46 L463.50,141.45 L464.00,141.54 L464.50,141.50 L465.00,141.57 L465.50,141.39 L466.00,141.50 L466.50,141.66 L467.00,141.47 L467.50,141.58 L468.00,141.56 L468.50,141.51 L469.00,141.74 L469.50,141.53 L470.00,141.69 L470.50,141.51 L471.00,141.49 L471.50,141.76 L472.00,141.64 L472.50,141.53 L473.00,141.65 L473.50,141.69 L474.00,141.80 L474.50,141.62 L475.00,141.67 L475.50,141.93 L476.00,141.88 L476.50,141.71 L477.00,141.79 L477.50,141.82 L478.00,141.94 L478.50,141.94 L479.00,142.04 L479.50,142.05 L480.00,141.98 L480.50,142.07 L481.00,142.09 L481.50,142.12 L482.00,142.05 L482.50,142.17 L483.00,142.17 L483.50,142.25 L484.00,142.02 L484.50,142.28 L485.00,142.02 L485.50,142.28 L486.00,142.24 L486.50,142.23 L487.00,142.39 L487.50,142.28 L488.00,142.25 L488.50,142.38 L489.00,142.42 L489.50,142.35 L490.00,142.28 L490.50,142.32 L491.00,142.33 L491.50,142.42 L492.00,142.29 L492.50,142.33 L493.00,142.38 L493.50,142.33 L494.00,142.31 L494.50,142.46 L495.00,142.48 L495.50,142.37 L496.00,142.35 L496.50,142.27 L497.00,142.30 L497.50,142.24 L498.00,142.38 L498.50,142.37 L499.00,142.21 L499.50,142.46 L500.00,142.26 L500.50,142.42 L501.00,142.40 L501.50,142.43 L502.00,142.18 L502.50,142.23 L503.00,142.38 L503.50,142.07 L504.00,142.07 L504.50,142.22 L505.00,142.18 L505.50,142.30 L506.00,142.24 L506.50,142.15 L507.00,142.28 L507.50,142.10 L508.00,142.09 L508.50,142.12 L509.00,142.01 L509.50,141.99 L510.00,142.04 L510.50,141.95 L511.00,142.12 L511.50,142.02 L512.00,141.96 L512.50,141.81 L513.00,141.88 L513.50,141.87 L514.00,141.91 L514.50,141.90 L515.00,141.99 L515.50,142.01 L516.00,141.84 L516.50,141.82 L517.00,141.87 L517.50,141.98 L518.00,141.76 L518.50,141.82 L519.00,141.91 L519.50,141.70 L520.00,141.74 L520.50,141.95 L521.00,141.90 L521.50,141.80 L522.00,141.67 L522.50,141.93 L523.00,141.86 L523.50,141.91 L524.00,141.97 L524.50,141.95 L525.00,141.80 L525.50,141.73 L526.00,141.78 L526.50,141.86 L527.00,141.87 L527.50,141.78 L528.00,141.80 L528.50,141.95 L529.00,141.96 L529.50,141.90 L530.00,142.12 L530.50,142.02 L531.00,141.85 L531.50,141.99 L532.00,142.13 L532.50,141.99 L533.00,142.14 L533.50,141.94 L534.00,142.05 L534.50,142.25 L535.00,142.19 L535.50,142.24 L536.00,142.11 L536.50,142.22 L537.00,142.26 L537.50,142.19 L538.00,142.34 L538.50,142.32 L539.00,142.49 L539.50,142.38 L540.00,142.34 L540.50,142.27 L541.00,142.30 L541.50,142.51 L542.00,142.32 L542.50,142.33 L543.00,142.36 L543.50,142.47 L544.00,142.55 L544.50,142.44 L545.00,142.40 L545.50,141.91 L546.00,141.47 L546.50,141.39 L547.00,141.22 L547.50,141.33 L548.00,141.13 L548.50,141.01 L549.00,141.08 L549.50,141.16 L550.00,141.59 L550.50,141.57 L551.00,141.36 L551.50,141.29 L552.00,141.58 L552.50,141.99 L553.00,142.57 L553.50,126.75 L553.75,113.70 L554.00,126.70 L554.50,142.53 L555.00,142.30 L555.50,141.99 L556.00,141.77 L556.50,141.20 L557.00,140.89 L557.50,141.18 L558.00,141.15 L558.50,140.97 L559.00,141.14 L559.50,141.43 L560.00,141.47 L560.50,141.69 L561.00,141.44 L561.50,141.69 L562.00,142.15 L562.50,142.20 L563.00,142.29 L563.50,142.48 L564.00,142.34 L564.50,142.43 L565.00,142.24 L565.50,142.20 L566.00,142.24 L566.50,142.17 L567.00,142.41 L567.50,142.17 L568.00,142.24 L568.50,142.08 L569.00,142.19 L569.50,142.10 L570.00,142.02 L570.50,141.74 L571.00,141.50 L571.50,141.43 L572.00,141.03 L572.50,140.93 L573.00,141.04 L573.50,141.32 L574.00,141.56 L574.50,141.66 L575.00,141.89 L575.50,141.73 L576.00,141.58 L576.50,141.72 L577.00,141.56 L577.50,141.72 L578.00,142.01 L578.50,141.87 L579.00,142.01 L579.50,142.16 L580.00,142.16 L580.50,141.96 L581.00,142.03 L581.50,142.16 L582.00,142.05 L582.50,142.25 L583.00,142.02 L583.50,142.27 L584.00,142.14 L584.50,142.06 L585.00,142.15 L585.50,142.06 L586.00,142.26 L586.50,142.14 L587.00,142.36 L587.50,142.28 L588.00,142.23 L588.50,142.21 L589.00,142.34 L589.50,142.24 L590.00,142.47 L590.50,142.25 L591.00,142.40 L591.50,142.43 L592.00,142.36 L592.50,142.54 L593.00,142.44 L593.50,142.55 L594.00,142.54 L594.50,142.48 L595.00,142.53 L595.50,142.45 L596.00,142.50 L596.50,142.74 L597.00,142.59 L597.50,142.72 L598.00,142.56 L598.50,142.72 L599.00,142.68 L599.50,142.74 L600.00,142.69 L600.50,142.62 L601.00,142.71 L601.50,142.69 L602.00,142.67 L602.50,142.87 L603.00,142.73 L603.50,142.77 L604.00,142.94 L604.50,142.90 L605.00,142.93 L605.50,142.92 L606.00,142.68 L606.50,142.72 L607.00,142.64 L607.50,142.84 L608.00,142.82 L608.50,142.71 L609.00,142.72 L609.50,142.79 L610.00,142.78 L610.50,142.62 L611.00,142.80 L611.50,142.62 L612.00,142.69 L612.50,142.52 L613.00,142.48 L613.50,142.71 L614.00,142.63 L614.50,142.60 L615.00,142.36 L615.50,142.33 L616.00,142.34 L616.50,142.32 L617.00,142.32 L617.50,142.32 L618.00,142.17 L618.50,142.23 L619.00,142.30 L619.50,142.12 L620.00,142.30 L620.50,142.18 L621.00,142.19 L621.50,142.01 L622.00,142.03 L622.50,142.07 L623.00,141.93 L623.50,141.78 L624.00,142.02 L624.50,141.96 L625.00,141.73 L625.50,141.28 L626.00,140.20 L626.50,138.35 L627.00,138.31 L627.50,139.79 L628.00,139.93 L628.50,139.38 L629.00,139.03 L629.50,140.02 L630.00,140.72 L630.50,140.73 L631.00,140.83 L631.50,140.64 L632.00,140.81 L632.50,141.00 L633.00,141.00 L633.50,141.07 L634.00,141.40 L634.50,141.24 L635.00,141.39 L635.50,141.30 L636.00,141.29 L636.50,141.30 L637.00,141.22 L637.50,141.15 L638.00,141.00 L638.50,141.20 L639.00,141.09 L639.50,141.11 L640.00,141.23 L640.50,140.96 L641.00,141.15 L641.50,140.91 L642.00,141.12 L642.50,141.14 L643.00,140.96 L643.50,141.04 L644.00,141.17 L644.50,141.06 L645.00,141.02 L645.50,140.92 L646.00,140.86 L646.50,140.95 L647.00,140.96 L647.50,140.89 L648.00,140.92 L648.50,140.86 L649.00,141.04 L649.50,141.03 L650.00,140.89 L650.50,140.88 L651.00,140.97 L651.50,140.94 L652.00,141.09 L652.50,140.90 L653.00,140.88 L653.50,141.06 L654.00,140.82 L654.50,140.95 L655.00,140.87 L655.50,141.01 L656.00,140.92 L656.50,140.98 L657.00,140.78 L657.50,140.93 L658.00,140.89 L658.50,140.84 L659.00,140.92 L659.50,140.93 L660.00,140.69 L660.50,140.73 L661.00,140.73 L661.50,140.67 L662.00,140.60 L662.50,140.65 L663.00,140.60 L663.50,140.74 L664.00,140.64 L664.50,140.51 L665.00,140.55 L665.50,140.57 L666.00,140.51 L666.50,140.42 L667.00,140.36 L667.50,140.31 L668.00,140.60 L668.50,140.49 L669.00,140.25 L669.50,140.42 L670.00,140.47 L670.50,140.30 L671.00,140.12 L671.50,140.21 L672.00,140.15 L672.50,140.04 L673.00,140.12 L673.50,139.91 L674.00,140.16 L674.50,140.04 L675.00,140.00 L675.50,140.06 L676.00,139.93 L676.50,139.76 L677.00,139.72 L677.50,139.65 L678.00,139.58 L678.50,139.78 L679.00,139.77 L679.50,139.56 L680.00,139.48 L680.50,139.59 L681.00,139.63 L681.50,139.62 L682.00,139.34 L682.50,139.51 L683.00,139.49 L683.50,139.43 L684.00,139.27 L684.50,139.19 L685.00,139.37 L685.50,139.18 L686.00,139.17 L686.50,139.20 L687.00,139.12 L687.50,139.25 L688.00,139.04 L688.50,138.95 L689.00,139.10 L689.50,139.10 L690.00,139.15 L690.50,139.10 L691.00,139.15 L691.50,139.15 L692.00,139.00 L692.50,138.99 L693.00,138.87 L693.50,138.91 L694.00,139.00 L694.50,138.83 L695.00,139.02 L695.50,138.86 L696.00,138.95 L696.50,139.12 L697.00,138.84 L697.50,138.83 L698.00,138.96 L698.50,138.89 L699.00,139.07 L699.50,138.84 L700.00,139.25 L700.50,139.26 L701.00,139.24 L701.50,139.12 L702.00,139.08 L702.50,139.21 L703.00,139.17 L703.50,139.14 L704.00,139.12 L704.50,139.16 L705.00,139.24 L705.50,138.89 L706.00,136.84 L706.50,133.53 L707.00,130.41 L707.50,128.11 L708.00,127.65 L708.50,127.86 L709.00,127.58 L709.50,127.06 L710.00,126.94 L710.50,127.30 L711.00,127.95 L711.50,128.07 L712.00,127.69 L712.50,127.27 L713.00,127.22 L713.50,127.59 L714.00,129.20 L714.50,131.92 L715.00,135.48 L715.50,138.22 L716.00,139.26 L716.50,140.42 L717.00,140.61 L717.50,140.52 L718.00,140.64 L718.50,140.60 L719.00,140.68 L719.50,140.92 L720.00,140.71 L720.50,140.83 L721.00,141.05 L721.50,141.04 L722.00,140.98 L722.50,141.23 L723.00,141.20 L723.50,141.33 L724.00,141.34 L724.50,141.44 L725.00,141.51 L725.50,141.52 L726.00,141.49 L726.50,141.46 L727.00,141.64 L727.50,141.48 L728.00,141.29 L728.50,141.48 L729.00,141.23 L729.50,141.13 L730.00,141.22 L730.50,141.08 L731.00,141.11 L731.50,141.08 L732.00,140.92 L732.50,140.98 L733.00,140.78 L733.50,140.86 L734.00,140.50 L734.50,137.44 L735.00,133.66 L735.50,131.15 L736.00,129.87 L736.50,132.35 L737.00,134.11 L737.50,134.95 L738.00,133.56 L738.50,131.86 L739.00,132.79 L739.50,134.59 L740.00,134.82 L740.50,133.44 L741.00,132.08 L741.50,133.04 L742.00,135.13 L742.50,135.03 L743.00,131.83 L743.50,117.44 L744.00,133.93 L744.50,136.12 L745.00,136.95 L745.50,137.63 L746.00,137.97 L746.50,138.90 L747.00,139.09 L747.50,139.55 L748.00,140.19 L748.50,140.30 L749.00,140.91 L749.50,140.96 L750.00,141.35 L750.50,141.33 L751.00,141.75 L751.50,141.87 L752.00,141.50 L752.50,142.03 L753.00,141.85 L753.50,142.23 L754.00,142.25 L754.50,142.42 L755.00,141.98 L755.50,142.20 L756.00,142.50 L756.50,142.68 L757.00,142.54 L757.50,142.09 L758.00,142.51 L758.50,142.17 L759.00,142.51 L759.50,142.71 L760.00,142.24 L760.50,142.87 L761.00,142.70 L761.50,142.41 L762.00,142.38 L762.50,142.56 L763.00,142.85 L763.50,142.67 L764.00,142.35 L764.50,142.30 L765.00,142.37 L765.50,142.86 L766.00,142.43 L766.50,142.70 L767.00,142.52 L767.50,142.81 L768.00,142.60 L768.50,142.44 L769.00,142.96 L769.50,142.73 L770.00,142.84 L770.50,142.93 L771.00,143.03 L771.50,142.38 L772.00,142.61 L772.50,142.48 L773.00,142.73 L773.50,142.99 L774.00,142.95 L774.50,142.41 L775.00,142.51 L775.50,142.96 L776.00,142.87 L776.50,142.66 L777.00,142.72 L777.50,142.50" fill="none" stroke="#c83b55" stroke-width="1.25" stroke-linejoin="round"/>
<path d="M445.00,113.65 L445.50,113.80 L446.00,113.71 L446.50,113.53 L447.00,113.61 L447.50,113.57 L448.00,113.78 L448.50,113.68 L449.00,113.51 L449.50,113.55 L450.00,113.61 L450.50,113.65 L451.00,113.69 L451.50,113.63 L452.00,113.63 L452.50,113.53 L453.00,113.72 L453.50,113.65 L454.00,113.56 L454.50,113.71 L455.00,113.89 L455.50,113.60 L456.00,113.65 L456.50,113.83 L457.00,113.72 L457.50,113.73 L458.00,113.82 L458.50,113.76 L459.00,113.88 L459.50,113.88 L460.00,114.04 L460.50,114.07 L461.00,113.78 L461.50,113.97 L462.00,114.06 L462.50,114.11 L463.00,114.10 L463.50,114.07 L464.00,114.09 L464.50,114.03 L465.00,114.02 L465.50,114.21 L466.00,114.25 L466.50,114.29 L467.00,114.23 L467.50,114.12 L468.00,114.29 L468.50,114.30 L469.00,114.24 L469.50,114.30 L470.00,114.22 L470.50,114.30 L471.00,114.27 L471.50,114.17 L472.00,114.27 L472.50,114.28 L473.00,114.50 L473.50,114.35 L474.00,114.32 L474.50,114.29 L475.00,114.29 L475.50,114.33 L476.00,114.27 L476.50,114.23 L477.00,114.51 L477.50,114.38 L478.00,114.37 L478.50,114.41 L479.00,114.33 L479.50,114.28 L480.00,114.24 L480.50,114.31 L481.00,114.31 L481.50,114.43 L482.00,114.37 L482.50,114.48 L483.00,114.28 L483.50,114.46 L484.00,114.34 L484.50,114.16 L485.00,114.18 L485.50,114.30 L486.00,114.41 L486.50,114.19 L487.00,114.31 L487.50,114.19 L488.00,114.31 L488.50,114.04 L489.00,114.15 L489.50,114.27 L490.00,114.05 L490.50,114.02 L491.00,113.93 L491.50,113.96 L492.00,113.97 L492.50,114.09 L493.00,113.92 L493.50,113.96 L494.00,113.87 L494.50,113.99 L495.00,114.05 L495.50,113.96 L496.00,113.80 L496.50,113.96 L497.00,114.02 L497.50,113.89 L498.00,113.70 L498.50,113.92 L499.00,113.93 L499.50,113.75 L500.00,113.67 L500.50,113.68 L501.00,113.78 L501.50,113.88 L502.00,113.80 L502.50,113.88 L503.00,113.65 L503.50,113.68 L504.00,113.81 L504.50,113.78 L505.00,113.70 L505.50,113.79 L506.00,113.68 L506.50,113.59 L507.00,113.71 L507.50,113.59 L508.00,113.78 L508.50,113.70 L509.00,113.75 L509.50,113.80 L510.00,113.70 L510.50,113.77 L511.00,113.64 L511.50,113.94 L512.00,113.84 L512.50,113.99 L513.00,113.70 L513.50,113.90 L514.00,113.95 L514.50,113.84 L515.00,113.78 L515.50,113.82 L516.00,113.83 L516.50,114.05 L517.00,113.85 L517.50,114.10 L518.00,114.00 L518.50,114.05 L519.00,114.09 L519.50,114.10 L520.00,114.15 L520.50,114.16 L521.00,114.09 L521.50,114.24 L522.00,114.10 L522.50,114.27 L523.00,114.30 L523.50,114.33 L524.00,114.20 L524.50,114.36 L525.00,114.45 L525.50,114.29 L526.00,114.25 L526.50,114.35 L527.00,114.50 L527.50,114.25 L528.00,114.23 L528.50,114.39 L529.00,114.46 L529.50,114.50 L530.00,114.38 L530.50,114.59 L531.00,114.35 L531.50,114.53 L532.00,114.32 L532.50,114.31 L533.00,114.34 L533.50,114.32 L534.00,114.47 L534.50,114.48 L535.00,114.36 L535.50,114.60 L536.00,114.42 L536.50,114.34 L537.00,114.35 L537.50,114.52 L538.00,114.57 L538.50,114.32 L539.00,114.27 L539.50,114.50 L540.00,114.31 L540.50,114.54 L541.00,114.37 L541.50,114.40 L542.00,114.29 L542.50,114.42 L543.00,114.29 L543.50,114.21 L544.00,114.35 L544.50,114.01 L545.00,114.08 L545.50,113.59 L546.00,113.32 L546.50,112.89 L547.00,112.98 L547.50,112.69 L548.00,112.73 L548.50,112.59 L549.00,112.77 L549.50,112.89 L550.00,112.94 L550.50,112.88 L551.00,112.73 L551.50,112.61 L552.00,112.96 L552.50,113.40 L553.00,113.69 L553.50,99.22 L553.75,86.91 L554.00,99.06 L554.50,113.96 L555.00,113.59 L555.50,113.45 L556.00,112.81 L556.50,112.49 L557.00,112.36 L557.50,112.27 L558.00,112.42 L558.50,112.43 L559.00,112.34 L559.50,112.54 L560.00,112.79 L560.50,113.00 L561.00,112.76 L561.50,113.14 L562.00,113.49 L562.50,113.67 L563.00,113.79 L563.50,113.91 L564.00,113.71 L564.50,113.94 L565.00,113.78 L565.50,113.92 L566.00,113.95 L566.50,113.74 L567.00,113.97 L567.50,114.02 L568.00,113.81 L568.50,113.74 L569.00,113.77 L569.50,114.03 L570.00,113.66 L570.50,113.81 L571.00,113.34 L571.50,113.26 L572.00,112.84 L572.50,112.82 L573.00,113.14 L573.50,113.23 L574.00,113.59 L574.50,113.96 L575.00,113.96 L575.50,113.97 L576.00,113.94 L576.50,113.62 L577.00,113.75 L577.50,114.05 L578.00,114.15 L578.50,114.04 L579.00,114.25 L579.50,114.20 L580.00,114.29 L580.50,114.20 L581.00,114.19 L581.50,114.52 L582.00,114.32 L582.50,114.52 L583.00,114.29 L583.50,114.42 L584.00,114.32 L584.50,114.43 L585.00,114.36 L585.50,114.54 L586.00,114.38 L586.50,114.57 L587.00,114.51 L587.50,114.39 L588.00,114.47 L588.50,114.53 L589.00,114.66 L589.50,114.49 L590.00,114.45 L590.50,114.69 L591.00,114.66 L591.50,114.61 L592.00,114.46 L592.50,114.43 L593.00,114.45 L593.50,114.38 L594.00,114.37 L594.50,114.51 L595.00,114.47 L595.50,114.51 L596.00,114.44 L596.50,114.31 L597.00,114.52 L597.50,114.50 L598.00,114.45 L598.50,114.44 L599.00,114.47 L599.50,114.54 L600.00,114.49 L600.50,114.42 L601.00,114.30 L601.50,114.26 L602.00,114.27 L602.50,114.42 L603.00,114.21 L603.50,114.19 L604.00,114.17 L604.50,114.06 L605.00,114.31 L605.50,113.97 L606.00,114.14 L606.50,114.22 L607.00,113.98 L607.50,114.07 L608.00,113.97 L608.50,113.90 L609.00,113.86 L609.50,113.81 L610.00,114.02 L610.50,113.97 L611.00,113.99 L611.50,113.69 L612.00,113.87 L612.50,113.73 L613.00,113.81 L613.50,113.76 L614.00,113.67 L614.50,113.86 L615.00,113.53 L615.50,113.75 L616.00,113.76 L616.50,113.63 L617.00,113.64 L617.50,113.76 L618.00,113.50 L618.50,113.61 L619.00,113.64 L619.50,113.51 L620.00,113.60 L620.50,113.49 L621.00,113.52 L621.50,113.54 L622.00,113.55 L622.50,113.43 L623.00,113.52 L623.50,113.49 L624.00,113.38 L624.50,113.50 L625.00,113.36 L625.50,113.27 L626.00,112.03 L626.50,110.66 L627.00,110.74 L627.50,111.94 L628.00,112.04 L628.50,111.39 L629.00,111.53 L629.50,112.07 L630.00,112.73 L630.50,112.95 L631.00,112.98 L631.50,112.74 L632.00,112.79 L632.50,113.16 L633.00,113.22 L633.50,113.40 L634.00,113.53 L634.50,113.58 L635.00,113.58 L635.50,113.32 L636.00,113.43 L636.50,113.57 L637.00,113.57 L637.50,113.34 L638.00,113.35 L638.50,113.38 L639.00,113.32 L639.50,113.40 L640.00,113.54 L640.50,113.44 L641.00,113.41 L641.50,113.29 L642.00,113.38 L642.50,113.56 L643.00,113.45 L643.50,113.36 L644.00,113.35 L644.50,113.44 L645.00,113.41 L645.50,113.20 L646.00,113.36 L646.50,113.24 L647.00,113.27 L647.50,113.15 L648.00,113.17 L648.50,113.14 L649.00,113.13 L649.50,112.99 L650.00,113.02 L650.50,113.11 L651.00,112.92 L651.50,112.93 L652.00,113.07 L652.50,112.90 L653.00,112.88 L653.50,112.82 L654.00,112.97 L654.50,112.70 L655.00,112.84 L655.50,112.88 L656.00,112.63 L656.50,112.66 L657.00,112.74 L657.50,112.65 L658.00,112.53 L658.50,112.39 L659.00,112.48 L659.50,112.41 L660.00,112.48 L660.50,112.31 L661.00,112.31 L661.50,112.34 L662.00,112.36 L662.50,112.17 L663.00,112.14 L663.50,112.16 L664.00,112.24 L664.50,111.96 L665.00,112.18 L665.50,112.05 L666.00,111.91 L666.50,111.97 L667.00,111.82 L667.50,111.71 L668.00,111.89 L668.50,111.74 L669.00,111.75 L669.50,111.71 L670.00,111.81 L670.50,111.74 L671.00,111.48 L671.50,111.63 L672.00,111.56 L672.50,111.54 L673.00,111.64 L673.50,111.48 L674.00,111.48 L674.50,111.59 L675.00,111.43 L675.50,111.43 L676.00,111.42 L676.50,111.50 L677.00,111.44 L677.50,111.45 L678.00,111.33 L678.50,111.21 L679.00,111.40 L679.50,111.35 L680.00,111.42 L680.50,111.41 L681.00,111.20 L681.50,111.23 L682.00,111.18 L682.50,111.42 L683.00,111.19 L683.50,111.18 L684.00,111.40 L684.50,111.34 L685.00,111.18 L685.50,111.39 L686.00,111.40 L686.50,111.33 L687.00,111.20 L687.50,111.41 L688.00,111.33 L688.50,111.39 L689.00,111.54 L689.50,111.49 L690.00,111.51 L690.50,111.29 L691.00,111.36 L691.50,111.43 L692.00,111.27 L692.50,111.60 L693.00,111.38 L693.50,111.38 L694.00,111.41 L694.50,111.40 L695.00,111.60 L695.50,111.51 L696.00,111.50 L696.50,111.48 L697.00,111.37 L697.50,111.46 L698.00,111.64 L698.50,111.63 L699.00,111.65 L699.50,111.46 L700.00,111.26 L700.50,111.21 L701.00,111.36 L701.50,111.31 L702.00,111.33 L702.50,111.34 L703.00,111.37 L703.50,111.30 L704.00,111.44 L704.50,111.24 L705.00,111.47 L705.50,110.90 L706.00,108.36 L706.50,104.95 L707.00,101.41 L707.50,98.69 L708.00,98.17 L708.50,98.40 L709.00,98.10 L709.50,97.70 L710.00,97.31 L710.50,97.79 L711.00,98.36 L711.50,98.43 L712.00,97.97 L712.50,97.59 L713.00,97.37 L713.50,98.04 L714.00,99.53 L714.50,102.99 L715.00,106.87 L715.50,109.79 L716.00,111.34 L716.50,112.15 L717.00,112.37 L717.50,112.30 L718.00,112.59 L718.50,112.53 L719.00,112.67 L719.50,112.63 L720.00,112.74 L720.50,112.80 L721.00,112.74 L721.50,112.77 L722.00,113.02 L722.50,112.86 L723.00,113.17 L723.50,113.00 L724.00,113.02 L724.50,113.08 L725.00,113.36 L725.50,113.47 L726.00,113.36 L726.50,113.39 L727.00,113.22 L727.50,113.38 L728.00,113.26 L728.50,113.04 L729.00,112.96 L729.50,113.12 L730.00,112.87 L730.50,113.08 L731.00,112.86 L731.50,112.79 L732.00,112.86 L732.50,112.73 L733.00,112.77 L733.50,112.60 L734.00,112.45 L734.50,109.25 L735.00,105.38 L735.50,102.67 L736.00,101.43 L736.50,103.94 L737.00,105.70 L737.50,106.41 L738.00,105.07 L738.50,103.60 L739.00,104.15 L739.50,106.24 L740.00,106.54 L740.50,104.99 L741.00,103.81 L741.50,104.79 L742.00,106.79 L742.50,106.65 L743.00,103.62 L743.50,89.98 L744.00,105.85 L744.50,108.26 L745.00,109.05 L745.50,109.64 L746.00,110.10 L746.50,110.69 L747.00,111.45 L747.50,111.69 L748.00,112.37 L748.50,112.11 L749.00,112.67 L749.50,113.19 L750.00,113.23 L750.50,113.39 L751.00,113.25 L751.50,113.44 L752.00,113.67 L752.50,114.23 L753.00,114.31 L753.50,113.96 L754.00,114.53 L754.50,113.97 L755.00,114.43 L755.50,114.73 L756.00,114.33 L756.50,114.78 L757.00,114.60 L757.50,114.20 L758.00,114.42 L758.50,114.51 L759.00,114.38 L759.50,114.74 L760.00,114.36 L760.50,114.84 L761.00,114.50 L761.50,114.34 L762.00,114.68 L762.50,114.35 L763.00,114.67 L763.50,114.83 L764.00,114.69 L764.50,114.60 L765.00,114.29 L765.50,114.63 L766.00,114.33 L766.50,114.71 L767.00,114.34 L767.50,114.65 L768.00,114.49 L768.50,114.50 L769.00,114.69 L769.50,114.33 L770.00,114.33 L770.50,114.87 L771.00,114.43 L771.50,114.78 L772.00,114.80 L772.50,114.51 L773.00,114.27 L773.50,114.23 L774.00,114.77 L774.50,114.23 L775.00,114.49 L775.50,114.51 L776.00,114.20 L776.50,114.44 L777.00,114.22 L777.50,114.48" fill="none" stroke="#dc3e58" stroke-width="1.25" stroke-linejoin="round"/>
<path d="M445.00,88.54 L445.50,88.47 L446.00,88.52 L446.50,88.44 L447.00,88.40 L447.50,88.43 L448.00,88.61 L448.50,88.48 L449.00,88.58 L449.50,88.29 L450.00,88.56 L450.50,88.40 L451.00,88.48 L451.50,88.39 L452.00,88.41 L452.50,88.24 L453.00,88.39 L453.50,88.18 L454.00,88.19 L454.50,88.10 L455.00,88.19 L455.50,88.21 L456.00,88.12 L456.50,88.30 L457.00,88.02 L457.50,88.16 L458.00,88.03 L458.50,88.13 L459.00,88.17 L459.50,88.14 L460.00,87.91 L460.50,87.96 L461.00,88.06 L461.50,88.17 L462.00,87.85 L462.50,88.03 L463.00,88.04 L463.50,88.07 L464.00,87.91 L464.50,88.06 L465.00,87.94 L465.50,88.08 L466.00,87.78 L466.50,88.08 L467.00,87.91 L467.50,87.91 L468.00,87.80 L468.50,87.86 L469.00,88.01 L469.50,88.00 L470.00,87.84 L470.50,87.90 L471.00,87.85 L471.50,87.87 L472.00,87.89 L472.50,87.93 L473.00,88.15 L473.50,88.17 L474.00,88.11 L474.50,88.03 L475.00,88.05 L475.50,88.15 L476.00,88.21 L476.50,88.17 L477.00,88.15 L477.50,88.03 L478.00,88.18 L478.50,88.27 L479.00,88.27 L479.50,88.07 L480.00,88.29 L480.50,88.19 L481.00,88.15 L481.50,88.42 L482.00,88.35 L482.50,88.39 L483.00,88.21 L483.50,88.45 L484.00,88.51 L484.50,88.52 L485.00,88.48 L485.50,88.53 L486.00,88.54 L486.50,88.48 L487.00,88.45 L487.50,88.59 L488.00,88.59 L488.50,88.63 L489.00,88.46 L489.50,88.69 L490.00,88.56 L490.50,88.71 L491.00,88.45 L491.50,88.73 L492.00,88.68 L492.50,88.52 L493.00,88.71 L493.50,88.52 L494.00,88.52 L494.50,88.60 L495.00,88.53 L495.50,88.61 L496.00,88.75 L496.50,88.67 L497.00,88.68 L497.50,88.57 L498.00,88.70 L498.50,88.69 L499.00,88.65 L499.50,88.73 L500.00,88.68 L500.50,88.54 L501.00,88.42 L501.50,88.59 L502.00,88.64 L502.50,88.47 L503.00,88.53 L503.50,88.60 L504.00,88.57 L504.50,88.30 L505.00,88.44 L505.50,88.27 L506.00,88.28 L506.50,88.49 L507.00,88.34 L507.50,88.38 L508.00,88.32 L508.50,88.26 L509.00,88.20 L509.50,88.23 L510.00,88.36 L510.50,88.27 L511.00,88.15 L511.50,88.06 L512.00,88.10 L512.50,88.22 L513.00,88.12 L513.50,88.17 L514.00,88.20 L514.50,87.96 L515.00,88.12 L515.50,87.90 L516.00,88.14 L516.50,87.92 L517.00,87.93 L517.50,88.14 L518.00,87.93 L518.50,87.88 L519.00,88.08 L519.50,87.98 L520.00,88.06 L520.50,87.89 L521.00,87.92 L521.50,88.06 L522.00,87.91 L522.50,88.06 L523.00,87.80 L523.50,88.01 L524.00,87.79 L524.50,87.91 L525.00,87.74 L525.50,87.80 L526.00,88.05 L526.50,87.90 L527.00,88.02 L527.50,87.84 L528.00,87.88 L528.50,87.81 L529.00,87.97 L529.50,88.08 L530.00,87.97 L530.50,87.94 L531.00,88.13 L531.50,88.14 L532.00,88.08 L532.50,87.90 L533.00,88.09 L533.50,88.05 L534.00,88.23 L534.50,88.06 L535.00,88.17 L535.50,88.18 L536.00,88.12 L536.50,88.19 L537.00,88.25 L537.50,88.35 L538.00,88.23 L538.50,88.21 L539.00,88.43 L539.50,88.15 L540.00,88.42 L540.50,88.39 L541.00,88.37 L541.50,88.35 L542.00,88.46 L542.50,88.52 L543.00,88.48 L543.50,88.48 L544.00,88.23 L544.50,88.28 L545.00,88.12 L545.50,88.13 L546.00,87.69 L546.50,87.13 L547.00,87.24 L547.50,87.23 L548.00,86.97 L548.50,87.02 L549.00,87.17 L549.50,87.28 L550.00,87.34 L550.50,87.58 L551.00,87.29 L551.50,87.27 L552.00,87.54 L552.50,88.24 L553.00,88.45 L553.50,75.94 L553.75,65.36 L554.00,75.81 L554.50,88.60 L555.00,88.41 L555.50,88.16 L556.00,87.53 L556.50,86.94 L557.00,86.94 L557.50,87.12 L558.00,87.11 L558.50,86.95 L559.00,86.96 L559.50,87.25 L560.00,87.56 L560.50,87.40 L561.00,87.57 L561.50,87.58 L562.00,87.99 L562.50,88.11 L563.00,88.25 L563.50,88.28 L564.00,88.46 L564.50,88.44 L565.00,88.18 L565.50,88.20 L566.00,88.38 L566.50,88.12 L567.00,88.14 L567.50,88.16 L568.00,88.03 L568.50,88.06 L569.00,88.07 L569.50,88.02 L570.00,88.12 L570.50,87.72 L571.00,87.44 L571.50,87.36 L572.00,86.96 L572.50,87.01 L573.00,87.07 L573.50,87.36 L574.00,87.47 L574.50,87.57 L575.00,87.79 L575.50,87.63 L576.00,87.56 L576.50,87.55 L577.00,87.61 L577.50,87.56 L578.00,87.69 L578.50,87.94 L579.00,87.85 L579.50,87.79 L580.00,87.90 L580.50,87.79 L581.00,87.95 L581.50,87.72 L582.00,87.97 L582.50,87.89 L583.00,87.83 L583.50,88.02 L584.00,87.81 L584.50,87.81 L585.00,87.76 L585.50,87.93 L586.00,88.00 L586.50,87.99 L587.00,87.92 L587.50,88.06 L588.00,87.85 L588.50,87.92 L589.00,88.05 L589.50,88.17 L590.00,88.08 L590.50,88.11 L591.00,88.15 L591.50,88.05 L592.00,88.24 L592.50,88.20 L593.00,88.09 L593.50,88.12 L594.00,88.28 L594.50,88.15 L595.00,88.12 L595.50,88.35 L596.00,88.26 L596.50,88.28 L597.00,88.35 L597.50,88.44 L598.00,88.21 L598.50,88.29 L599.00,88.22 L599.50,88.35 L600.00,88.40 L600.50,88.52 L601.00,88.48 L601.50,88.46 L602.00,88.42 L602.50,88.48 L603.00,88.39 L603.50,88.58 L604.00,88.57 L604.50,88.59 L605.00,88.37 L605.50,88.54 L606.00,88.57 L606.50,88.49 L607.00,88.62 L607.50,88.61 L608.00,88.56 L608.50,88.58 L609.00,88.51 L609.50,88.58 L610.00,88.33 L610.50,88.50 L611.00,88.49 L611.50,88.45 L612.00,88.32 L612.50,88.24 L613.00,88.39 L613.50,88.44 L614.00,88.25 L614.50,88.21 L615.00,88.19 L615.50,88.12 L616.00,88.28 L616.50,88.35 L617.00,88.27 L617.50,88.10 L618.00,88.18 L618.50,87.95 L619.00,88.16 L619.50,87.97 L620.00,87.83 L620.50,88.00 L621.00,87.81 L621.50,87.82 L622.00,87.72 L622.50,87.81 L623.00,87.81 L623.50,87.86 L624.00,87.58 L624.50,87.79 L625.00,87.50 L625.50,87.23 L626.00,86.28 L626.50,84.77 L627.00,84.87 L627.50,86.07 L628.00,86.10 L628.50,85.65 L629.00,85.33 L629.50,86.14 L630.00,86.73 L630.50,86.81 L631.00,86.56 L631.50,86.72 L632.00,86.51 L632.50,86.79 L633.00,86.90 L633.50,86.88 L634.00,87.10 L634.50,87.13 L635.00,87.07 L635.50,86.99 L636.00,87.01 L636.50,87.01 L637.00,86.87 L637.50,87.06 L638.00,87.08 L638.50,87.00 L639.00,87.04 L639.50,86.82 L640.00,87.02 L640.50,86.71 L641.00,86.83 L641.50,86.71 L642.00,86.80 L642.50,86.86 L643.00,86.86 L643.50,86.77 L644.00,86.73 L644.50,86.67 L645.00,86.74 L645.50,86.69 L646.00,86.66 L646.50,86.83 L647.00,86.76 L647.50,86.73 L648.00,86.65 L648.50,86.81 L649.00,86.64 L649.50,86.66 L650.00,86.76 L650.50,86.80 L651.00,86.88 L651.50,86.81 L652.00,86.87 L652.50,86.86 L653.00,86.80 L653.50,86.80 L654.00,86.58 L654.50,86.63 L655.00,86.56 L655.50,86.83 L656.00,86.78 L656.50,86.75 L657.00,86.63 L657.50,86.65 L658.00,86.58 L658.50,86.73 L659.00,86.83 L659.50,86.60 L660.00,86.51 L660.50,86.54 L661.00,86.59 L661.50,86.75 L662.00,86.71 L662.50,86.58 L663.00,86.46 L663.50,86.44 L664.00,86.44 L664.50,86.62 L665.00,86.51 L665.50,86.65 L666.00,86.61 L666.50,86.55 L667.00,86.43 L667.50,86.51 L668.00,86.27 L668.50,86.24 L669.00,86.35 L669.50,86.31 L670.00,86.19 L670.50,86.17 L671.00,86.07 L671.50,86.32 L672.00,86.23 L672.50,86.27 L673.00,86.25 L673.50,86.04 L674.00,86.11 L674.50,85.96 L675.00,86.06 L675.50,86.04 L676.00,85.78 L676.50,85.70 L677.00,85.73 L677.50,85.82 L678.00,85.72 L678.50,85.56 L679.00,85.79 L679.50,85.74 L680.00,85.60 L680.50,85.43 L681.00,85.67 L681.50,85.52 L682.00,85.34 L682.50,85.39 L683.00,85.45 L683.50,85.51 L684.00,85.35 L684.50,85.37 L685.00,85.20 L685.50,85.18 L686.00,85.36 L686.50,85.17 L687.00,85.06 L687.50,85.19 L688.00,85.01 L688.50,85.02 L689.00,85.08 L689.50,85.10 L690.00,85.10 L690.50,85.10 L691.00,85.00 L691.50,84.87 L692.00,85.06 L692.50,84.83 L693.00,84.96 L693.50,84.93 L694.00,85.00 L694.50,85.01 L695.00,84.85 L695.50,84.98 L696.00,84.99 L696.50,84.92 L697.00,84.81 L697.50,85.06 L698.00,84.97 L698.50,84.80 L699.00,84.86 L699.50,85.11 L700.00,85.03 L700.50,85.08 L701.00,85.21 L701.50,85.23 L702.00,85.17 L702.50,85.21 L703.00,84.99 L703.50,85.01 L704.00,85.30 L704.50,85.25 L705.00,85.01 L705.50,84.57 L706.00,82.34 L706.50,79.18 L707.00,75.47 L707.50,73.02 L708.00,72.56 L708.50,72.78 L709.00,72.60 L709.50,71.86 L710.00,71.61 L710.50,71.91 L711.00,72.69 L711.50,72.63 L712.00,72.51 L712.50,71.93 L713.00,71.71 L713.50,72.44 L714.00,73.94 L714.50,77.31 L715.00,80.88 L715.50,84.14 L716.00,85.44 L716.50,86.51 L717.00,86.29 L717.50,86.63 L718.00,86.60 L718.50,86.76 L719.00,86.72 L719.50,86.83 L720.00,86.89 L720.50,87.02 L721.00,86.85 L721.50,86.91 L722.00,87.13 L722.50,87.12 L723.00,87.22 L723.50,87.16 L724.00,87.45 L724.50,87.29 L725.00,87.61 L725.50,87.66 L726.00,87.61 L726.50,87.46 L727.00,87.58 L727.50,87.39 L728.00,87.41 L728.50,87.26 L729.00,87.49 L729.50,87.30 L730.00,87.19 L730.50,87.06 L731.00,87.21 L731.50,87.20 L732.00,87.15 L732.50,86.86 L733.00,86.89 L733.50,86.82 L734.00,86.57 L734.50,83.35 L735.00,79.45 L735.50,77.07 L736.00,75.54 L736.50,77.74 L737.00,79.70 L737.50,80.52 L738.00,79.24 L738.50,77.65 L739.00,78.29 L739.50,80.23 L740.00,80.65 L740.50,79.03 L741.00,77.76 L741.50,78.91 L742.00,80.75 L742.50,80.80 L743.00,77.65 L743.50,65.10 L744.00,79.75 L744.50,81.81 L745.00,82.82 L745.50,83.70 L746.00,84.02 L746.50,84.86 L747.00,84.84 L747.50,85.78 L748.00,85.79 L748.50,86.29 L749.00,86.25 L749.50,86.53 L750.00,86.78 L750.50,86.95 L751.00,86.96 L751.50,87.35 L752.00,87.86 L752.50,87.74 L753.00,88.04 L753.50,88.01 L754.00,88.14 L754.50,88.31 L755.00,88.20 L755.50,87.91 L756.00,87.93 L756.50,88.07 L757.00,87.82 L757.50,87.99 L758.00,88.48 L758.50,88.52 L759.00,88.12 L759.50,88.45 L760.00,88.47 L760.50,88.62 L761.00,88.56 L761.50,88.38 L762.00,88.09 L762.50,88.60 L763.00,88.25 L763.50,88.48 L764.00,88.30 L764.50,88.43 L765.00,88.74 L765.50,88.18 L766.00,88.45 L766.50,88.54 L767.00,88.47 L767.50,88.76 L768.00,88.39 L768.50,88.75 L769.00,88.60 L769.50,88.81 L770.00,88.19 L770.50,88.29 L771.00,88.35 L771.50,88.79 L772.00,88.16 L772.50,88.34 L773.00,88.67 L773.50,88.86 L774.00,88.30 L774.50,88.48 L775.00,88.66 L775.50,88.67 L776.00,88.71 L776.50,88.71 L777.00,88.36 L777.50,88.37" fill="none" stroke="#ee4560" stroke-width="1.25" stroke-linejoin="round"/>
<rect x="445.0" y="9.9" width="332.5" height="254.20000000000002" fill="none" stroke="#161616" stroke-width="1.55"/>
<line x1="445.0" y1="264.1" x2="445.0" y2="270.5" stroke="#161616" stroke-width="1.5"/>
<text x="445.0" y="283.9" font-size="14.2" font-weight="bold" fill="#111" text-anchor="middle" textLength="30.4" lengthAdjust="spacingAndGlyphs" stroke="#111" stroke-width="0.3">4000</text>
<line x1="555.8" y1="264.1" x2="555.8" y2="270.5" stroke="#161616" stroke-width="1.5"/>
<text x="555.8" y="283.9" font-size="14.2" font-weight="bold" fill="#111" text-anchor="middle" textLength="30.4" lengthAdjust="spacingAndGlyphs" stroke="#111" stroke-width="0.3">3000</text>
<line x1="666.7" y1="264.1" x2="666.7" y2="270.5" stroke="#161616" stroke-width="1.5"/>
<text x="666.7" y="283.9" font-size="14.2" font-weight="bold" fill="#111" text-anchor="middle" textLength="30.4" lengthAdjust="spacingAndGlyphs" stroke="#111" stroke-width="0.3">2000</text>
<line x1="777.5" y1="264.1" x2="777.5" y2="270.5" stroke="#161616" stroke-width="1.5"/>
<text x="777.5" y="283.9" font-size="14.2" font-weight="bold" fill="#111" text-anchor="middle" textLength="30.4" lengthAdjust="spacingAndGlyphs" stroke="#111" stroke-width="0.3">1000</text>
<text transform="translate(428,159.2) rotate(-90)" font-size="14.5" font-weight="bold" fill="#111" text-anchor="middle" textLength="129.5" lengthAdjust="spacingAndGlyphs">Kubelka Munk Unit</text>
<text x="550.6" y="302.7" font-size="14" font-weight="bold" fill="#111"><tspan textLength="117.4" lengthAdjust="spacingAndGlyphs">Wavenumber (cm</tspan><tspan font-size="7.6" dy="-9.4" dx="0.6">-1</tspan><tspan dy="9.4" dx="0.4">)</tspan></text>
<text x="462.4" y="71" font-size="14.5" font-weight="normal" fill="#111" text-anchor="start" textLength="32.2" lengthAdjust="spacingAndGlyphs">Time</text>
<line x1="477.5" y1="261" x2="477.5" y2="81" stroke="#222" stroke-width="1" stroke-dasharray="2.8,1.9"/>
<path d="M474.2,83.4 L477.5,75.8 L480.8,83.4 L477.5,80.6 Z" fill="#333"/>
<text x="0" y="0" font-size="14.3" font-weight="normal" text-anchor="start" textLength="24" lengthAdjust="spacingAndGlyphs" transform="translate(558.6,61.7) rotate(-90)"><tspan fill="#111">CH</tspan><tspan fill="#111" font-size="8.87" dy="5.30">4</tspan></text>
<text x="0" y="0" font-size="14.3" font-weight="normal" text-anchor="start" textLength="35.3" lengthAdjust="spacingAndGlyphs" transform="translate(578.2,82.3) rotate(-90)"><tspan fill="#111">CH</tspan><tspan fill="#111" font-size="8.87" dy="5.30">3</tspan><tspan fill="#111" dy="-5.30">O</tspan></text>
<text x="0" y="0" font-size="14.3" font-weight="normal" text-anchor="start" textLength="25.3" lengthAdjust="spacingAndGlyphs" transform="translate(635.2,81.3) rotate(-90)"><tspan fill="#111">CO</tspan><tspan fill="#111" font-size="8.87" dy="5.30">2</tspan></text>
<text x="0" y="0" font-size="14.3" font-weight="normal" text-anchor="start" textLength="23.9" lengthAdjust="spacingAndGlyphs" transform="translate(700.8,56.9) rotate(-90)"><tspan fill="#111">H</tspan><tspan fill="#111" font-size="8.87" dy="5.30">2</tspan><tspan fill="#111" dy="-5.30">O</tspan></text>
<text x="0" y="0" font-size="14.3" font-weight="normal" text-anchor="start" textLength="41.2" lengthAdjust="spacingAndGlyphs" transform="translate(728.6,58) rotate(-90)"><tspan fill="#111">HCOO</tspan></text>
<text x="0" y="0" font-size="14.3" font-weight="normal" text-anchor="start" textLength="24" lengthAdjust="spacingAndGlyphs" transform="translate(749.2,59.7) rotate(-90)"><tspan fill="#111">CH</tspan><tspan fill="#111" font-size="8.87" dy="5.30">4</tspan></text>
<line x1="708" y1="72" x2="702.15" y2="64.04" stroke="#111" stroke-width="1.4"/>
<path d="M698.6,59.2 L704.49,62.32 L701.68,63.39 L699.81,65.75 Z" fill="#111"/>
<line x1="713.2" y1="72" x2="716.30" y2="65.25" stroke="#111" stroke-width="1.4"/>
<path d="M718.8,59.8 L718.93,66.46 L716.63,64.53 L713.66,64.04 Z" fill="#111"/>
</g>
<g id="panel-c">
<text x="7.6" y="322.6" font-size="21.6" font-weight="bold" fill="#111" text-anchor="start" stroke="#111" stroke-width="0.8">c</text>
<line x1="140.0" y1="340.6" x2="149.9" y2="340.6" stroke="#1a1a1a" stroke-width="1.4"/>
<rect x="150.9" y="333.8" width="13.2" height="12.3" fill="none" stroke="#1e1e1e" stroke-width="1.3" stroke-dasharray="5,2" stroke-dashoffset="2.1"/>
<line x1="166.4" y1="340.6" x2="175.9" y2="340.6" stroke="#1a1a1a" stroke-width="1.4"/>
<text x="177" y="345.0" font-size="12.3" font-weight="bold" fill="#111" text-anchor="start" textLength="16" lengthAdjust="spacingAndGlyphs" stroke="#111" stroke-width="0.3">Ru</text>
<line x1="194.1" y1="340.6" x2="202.9" y2="340.6" stroke="#1a1a1a" stroke-width="1.4"/>
<text x="204" y="345.0" font-size="12.3" font-weight="bold" fill="#111" text-anchor="start" textLength="10.6" lengthAdjust="spacingAndGlyphs" stroke="#111" stroke-width="0.3">O</text>
<line x1="215.6" y1="340.6" x2="224.7" y2="340.6" stroke="#1a1a1a" stroke-width="1.4"/>
<text x="225.7" y="345.0" font-size="12.3" font-weight="bold" fill="#111" text-anchor="start" textLength="15.3" lengthAdjust="spacingAndGlyphs" stroke="#111" stroke-width="0.3">Zn</text>
<line x1="242.0" y1="340.6" x2="252.6" y2="340.6" stroke="#1a1a1a" stroke-width="1.4"/>
<line x1="290.5" y1="440.4" x2="298.9" y2="440.4" stroke="#1a1a1a" stroke-width="1.4"/>
<rect x="299.9" y="433.8" width="13.0" height="12.3" fill="none" stroke="#1e1e1e" stroke-width="1.3" stroke-dasharray="5,2" stroke-dashoffset="2.1"/>
<line x1="315.2" y1="440.4" x2="323.4" y2="440.4" stroke="#1a1a1a" stroke-width="1.4"/>
<text x="324.5" y="444.79999999999995" font-size="12.3" font-weight="bold" fill="#111" text-anchor="start" textLength="15.9" lengthAdjust="spacingAndGlyphs" stroke="#111" stroke-width="0.3">Ru</text>
<line x1="341.4" y1="440.4" x2="350.4" y2="440.4" stroke="#1a1a1a" stroke-width="1.4"/>
<text x="351.5" y="444.79999999999995" font-size="12.3" font-weight="bold" fill="#111" text-anchor="start" textLength="10.5" lengthAdjust="spacingAndGlyphs" stroke="#111" stroke-width="0.3">O</text>
<line x1="363.1" y1="440.4" x2="371.2" y2="440.4" stroke="#1a1a1a" stroke-width="1.4"/>
<text x="372" y="444.79999999999995" font-size="12.3" font-weight="bold" fill="#111" text-anchor="start" textLength="15.5" lengthAdjust="spacingAndGlyphs" stroke="#111" stroke-width="0.3">Zn</text>
<line x1="388.4" y1="440.4" x2="397.8" y2="440.4" stroke="#1a1a1a" stroke-width="1.4"/>
<text x="315.2" y="424" font-size="12.3" font-weight="bold" text-anchor="start" textLength="22.5" lengthAdjust="spacingAndGlyphs" stroke-width="0.3"><tspan fill="#111" stroke="#111">H</tspan><tspan fill="#111" stroke="#111" font-size="8.36" dy="2.71">3</tspan><tspan fill="#111" stroke="#111" dy="-2.71">C</tspan></text>
<text x="352.8" y="424" font-size="12.3" font-weight="bold" fill="#111" text-anchor="start" textLength="8" lengthAdjust="spacingAndGlyphs" stroke="#111" stroke-width="0.3">H</text>
<line x1="333.8" y1="424.4" x2="333.8" y2="434.6" stroke="#2a2a2a" stroke-width="1.3"/>
<line x1="356.8" y1="424.4" x2="356.8" y2="434.6" stroke="#2a2a2a" stroke-width="1.3"/>
<line x1="276.4" y1="579.8" x2="285.9" y2="579.8" stroke="#1a1a1a" stroke-width="1.4"/>
<text x="287" y="584.1999999999999" font-size="12.3" font-weight="bold" fill="#fb0a10" text-anchor="start" textLength="10.7" lengthAdjust="spacingAndGlyphs" stroke="#fb0a10" stroke-width="0.3">O</text>
<line x1="298.8" y1="579.8" x2="307.4" y2="579.8" stroke="#1a1a1a" stroke-width="1.4"/>
<text x="308.4" y="584.1999999999999" font-size="12.3" font-weight="bold" fill="#111" text-anchor="start" textLength="16.1" lengthAdjust="spacingAndGlyphs" stroke="#111" stroke-width="0.3">Ru</text>
<line x1="325.6" y1="579.8" x2="334.9" y2="579.8" stroke="#1a1a1a" stroke-width="1.4"/>
<text x="336" y="584.1999999999999" font-size="12.3" font-weight="bold" fill="#111" text-anchor="start" textLength="10.5" lengthAdjust="spacingAndGlyphs" stroke="#111" stroke-width="0.3">O</text>
<line x1="347.6" y1="579.8" x2="355.2" y2="579.8" stroke="#1a1a1a" stroke-width="1.4"/>
<text x="356" y="584.1999999999999" font-size="12.3" font-weight="bold" fill="#111" text-anchor="start" textLength="15.4" lengthAdjust="spacingAndGlyphs" stroke="#111" stroke-width="0.3">Zn</text>
<line x1="372.4" y1="579.8" x2="381.1" y2="579.8" stroke="#1a1a1a" stroke-width="1.4"/>
<text x="286.2" y="564.5" font-size="12.3" font-weight="bold" text-anchor="start" textLength="32.8" lengthAdjust="spacingAndGlyphs" stroke-width="0.3"><tspan fill="#111" stroke="#111">H</tspan><tspan fill="#111" stroke="#111" font-size="8.36" dy="2.71">3</tspan><tspan fill="#111" stroke="#111" dy="-2.71">C</tspan><tspan fill="#fb0a10" stroke="#fb0a10">O</tspan></text>
<text x="336" y="564.5" font-size="12.3" font-weight="bold" fill="#111" text-anchor="start" textLength="8.6" lengthAdjust="spacingAndGlyphs" stroke="#111" stroke-width="0.3">H</text>
<line x1="314.3" y1="564.4" x2="314.3" y2="574.7" stroke="#2a2a2a" stroke-width="1.3"/>
<line x1="340.3" y1="564.4" x2="340.3" y2="574.7" stroke="#2a2a2a" stroke-width="1.3"/>
<line x1="41.9" y1="579.8" x2="51.6" y2="579.8" stroke="#1a1a1a" stroke-width="1.4"/>
<text x="52.7" y="584.1999999999999" font-size="12.3" font-weight="bold" fill="#fb0a10" text-anchor="start" textLength="10.8" lengthAdjust="spacingAndGlyphs" stroke="#fb0a10" stroke-width="0.3">O</text>
<line x1="64.6" y1="579.8" x2="73.2" y2="579.8" stroke="#1a1a1a" stroke-width="1.4"/>
<text x="74.2" y="584.1999999999999" font-size="12.3" font-weight="bold" fill="#111" text-anchor="start" textLength="16.0" lengthAdjust="spacingAndGlyphs" stroke="#111" stroke-width="0.3">Ru</text>
<line x1="91.2" y1="579.8" x2="100.2" y2="579.8" stroke="#1a1a1a" stroke-width="1.4"/>
<text x="101.2" y="584.1999999999999" font-size="12.3" font-weight="bold" fill="#111" text-anchor="start" textLength="10.4" lengthAdjust="spacingAndGlyphs" stroke="#111" stroke-width="0.3">O</text>
<line x1="112.6" y1="579.8" x2="120.9" y2="579.8" stroke="#1a1a1a" stroke-width="1.4"/>
<text x="121.8" y="584.1999999999999" font-size="12.3" font-weight="bold" fill="#111" text-anchor="start" textLength="15.2" lengthAdjust="spacingAndGlyphs" stroke="#111" stroke-width="0.3">Zn</text>
<line x1="138.0" y1="579.8" x2="146.4" y2="579.8" stroke="#1a1a1a" stroke-width="1.4"/>
<text x="45.5" y="564.2" font-size="12.3" font-weight="bold" text-anchor="start" textLength="38" lengthAdjust="spacingAndGlyphs" stroke-width="0.3"><tspan fill="#111" stroke="#111">HC</tspan><tspan fill="#fb0a10" stroke="#fb0a10">OO</tspan></text>
<text x="101.7" y="564.2" font-size="12.3" font-weight="bold" fill="#111" text-anchor="start" textLength="8.6" lengthAdjust="spacingAndGlyphs" stroke="#111" stroke-width="0.3">H</text>
<line x1="79.5" y1="564.4" x2="79.5" y2="574.7" stroke="#2a2a2a" stroke-width="1.3"/>
<line x1="106.3" y1="564.4" x2="106.3" y2="574.7" stroke="#2a2a2a" stroke-width="1.3"/>
<line x1="9.6" y1="431.6" x2="19.9" y2="431.6" stroke="#1a1a1a" stroke-width="1.4"/>
<text x="20.7" y="436.0" font-size="12.3" font-weight="bold" fill="#fb0a10" text-anchor="start" textLength="10.6" lengthAdjust="spacingAndGlyphs" stroke="#fb0a10" stroke-width="0.3">O</text>
<line x1="32.6" y1="431.6" x2="41.4" y2="431.6" stroke="#1a1a1a" stroke-width="1.4"/>
<text x="42.4" y="436.0" font-size="12.3" font-weight="bold" fill="#111" text-anchor="start" textLength="15.9" lengthAdjust="spacingAndGlyphs" stroke="#111" stroke-width="0.3">Ru</text>
<line x1="59.1" y1="431.6" x2="66.9" y2="431.6" stroke="#1a1a1a" stroke-width="1.4"/>
<rect x="67.9" y="425.0" width="12.5" height="12.3" fill="none" stroke="#1e1e1e" stroke-width="1.3" stroke-dasharray="5,2" stroke-dashoffset="2.1"/>
<line x1="82.6" y1="431.6" x2="89.4" y2="431.6" stroke="#1a1a1a" stroke-width="1.4"/>
<text x="90" y="436.0" font-size="12.3" font-weight="bold" fill="#111" text-anchor="start" textLength="15.6" lengthAdjust="spacingAndGlyphs" stroke="#111" stroke-width="0.3">Zn</text>
<line x1="106.4" y1="431.6" x2="114.8" y2="431.6" stroke="#1a1a1a" stroke-width="1.4"/>
<text x="88.7" y="342.4" font-size="12.3" font-weight="bold" text-anchor="start" textLength="27.8" lengthAdjust="spacingAndGlyphs" stroke-width="0.3"><tspan fill="#111" stroke="#111">C</tspan><tspan fill="#fb0a10" stroke="#fb0a10">O</tspan><tspan fill="#111" stroke="#111">O</tspan></text>
<text x="92.7" y="358.3" font-size="12.3" font-weight="bold" text-anchor="start" textLength="23.8" lengthAdjust="spacingAndGlyphs" stroke-width="0.3"><tspan fill="#111" stroke="#111">H</tspan><tspan fill="#111" stroke="#111" font-size="8.36" dy="2.71">2</tspan><tspan fill="#fb0a10" stroke="#fb0a10" dy="-2.71">O</tspan></text>
<text x="47.7" y="397.5" font-size="12.3" font-weight="bold" text-anchor="start" textLength="23.3" lengthAdjust="spacingAndGlyphs" stroke-width="0.3"><tspan fill="#111" stroke="#111">CH</tspan><tspan fill="#111" stroke="#111" font-size="8.36" dy="2.71">4</tspan></text>
<text x="47.7" y="413.4" font-size="12.3" font-weight="bold" text-anchor="start" textLength="15.3" lengthAdjust="spacingAndGlyphs" stroke-width="0.3"><tspan fill="#111" stroke="#111">O</tspan><tspan fill="#111" stroke="#111" font-size="8.36" dy="2.71">2</tspan></text>
<text x="283.4" y="351.7" font-size="12.3" font-weight="bold" text-anchor="start" textLength="23.9" lengthAdjust="spacingAndGlyphs" stroke-width="0.3"><tspan fill="#111" stroke="#111">CH</tspan><tspan fill="#111" stroke="#111" font-size="8.36" dy="2.71">4</tspan></text>
<text x="368.7" y="479.4" font-size="12.3" font-weight="bold" text-anchor="start" textLength="14.7" lengthAdjust="spacingAndGlyphs" stroke-width="0.3"><tspan fill="#fb0a10" stroke="#fb0a10">O</tspan><tspan fill="#fb0a10" stroke="#fb0a10" font-size="8.36" dy="2.71">2</tspan></text>
<text x="288.4" y="625.3" font-size="12.3" font-weight="bold" text-anchor="start" textLength="14.6" lengthAdjust="spacingAndGlyphs" stroke-width="0.3"><tspan fill="#fb0a10" stroke="#fb0a10">O</tspan><tspan fill="#fb0a10" stroke="#fb0a10" font-size="8.36" dy="2.71">2</tspan></text>
<text x="122.6" y="633.9" font-size="12.3" font-weight="bold" text-anchor="start" textLength="23.9" lengthAdjust="spacingAndGlyphs" stroke-width="0.3"><tspan fill="#111" stroke="#111">H</tspan><tspan fill="#111" stroke="#111" font-size="8.36" dy="2.71">2</tspan><tspan fill="#fb0a10" stroke="#fb0a10" dy="-2.71">O</tspan></text>
<text x="12" y="482.9" font-size="12.3" font-weight="bold" text-anchor="start" textLength="28.7" lengthAdjust="spacingAndGlyphs" stroke-width="0.3"><tspan fill="#111" stroke="#111">C</tspan><tspan fill="#fb0a10" stroke="#fb0a10">O</tspan><tspan fill="#111" stroke="#111">O</tspan></text>
<text x="16" y="498.6" font-size="12.3" font-weight="bold" text-anchor="start" textLength="23.6" lengthAdjust="spacingAndGlyphs" stroke-width="0.3"><tspan fill="#111" stroke="#111">H</tspan><tspan fill="#111" stroke="#111" font-size="8.36" dy="2.71">2</tspan><tspan fill="#fb0a10" stroke="#fb0a10" dy="-2.71">O</tspan></text>
<text x="205.6" y="473.5" font-size="13" font-weight="bold" fill="#111" text-anchor="middle" textLength="93" lengthAdjust="spacingAndGlyphs" stroke="#111" stroke-width="0.3">Lattice Oxygen</text>
<text x="205.9" y="495.9" font-size="13" font-weight="bold" fill="#111" text-anchor="middle" textLength="153" lengthAdjust="spacingAndGlyphs" stroke="#111" stroke-width="0.3">Participation Mechanism</text>
<path d="M255.1,342.1 C257.3,343.1 263.6,345.4 268.4,347.9 C273.2,350.4 279.1,354.1 283.9,357.3 C288.7,360.6 292.8,363.6 297.2,367.4 C301.6,371.1 306.1,375.1 310.4,379.8 C314.7,384.5 319.4,390.7 322.9,395.4 C326.4,400.1 329.4,405.1 331.4,407.9 C333.3,410.7 334.1,411.5 334.6,412.2" fill="none" stroke="#2a5fd0" stroke-width="1.2"/>
<path d="M333.6,410.8 L329.1,408.3 L332.2,408.7 L332.9,405.7 Z" fill="#2a5fd0"/>
<path d="M287.1,354.1 C288.6,358 291.4,362 295.4,365.6" fill="none" stroke="#2a5fd0" stroke-width="1.2"/>
<path d="M299.0,368.6 L294.0,367.4 L297.1,367.0 L297.0,363.9 Z" fill="#2a5fd0"/>
<path d="M347,449.7 C354,482 349,520 330.4,551.7" fill="none" stroke="#2a5fd0" stroke-width="1.2"/>
<path d="M330.2,552.2 L330.4,547.1 L331.4,550.0 L334.4,549.3 Z" fill="#2a5fd0"/>
<path d="M367.9,482 C358,487 351,497 347.3,508.8" fill="none" stroke="#2a5fd0" stroke-width="1.2"/>
<path d="M346.6,511.5 L345.6,506.5 L347.3,509.1 L350.0,507.7 Z" fill="#2a5fd0"/>
<path d="M299.4,589.6 C297.3,591.2 291.8,596.1 287.0,599.3 C282.2,602.5 276.9,605.9 270.5,608.9 C264.1,611.9 255.8,615.0 248.5,617.1 C241.2,619.2 233.4,620.7 226.5,621.8 C219.6,622.9 213.7,623.4 207.3,623.5 C200.9,623.6 194.9,623.4 188.0,622.6 C181.1,621.8 172.9,620.3 166.0,618.5 C159.1,616.7 153.2,614.4 146.8,611.6 C140.4,608.9 133.7,605.7 127.5,602.0 C121.3,598.3 112.6,591.7 109.6,589.6" fill="none" stroke="#2a5fd0" stroke-width="1.2"/>
<path d="M112.6,591.6 L117.7,592.4 L114.7,593.1 L115.0,596.1 Z" fill="#2a5fd0"/>
<path d="M287,616.4 C277,611.6 265,612.2 254.5,615.6" fill="none" stroke="#2a5fd0" stroke-width="1.2"/>
<path d="M251.2,616.5 L255.1,613.2 L253.7,615.9 L256.2,617.6 Z" fill="#2a5fd0"/>
<path d="M167.5,618.8 C160.5,618.8 154,620.6 148.2,623.9" fill="none" stroke="#2a5fd0" stroke-width="1.2"/>
<path d="M146.4,624.9 L149.3,620.7 L148.6,623.7 L151.5,624.7 Z" fill="#2a5fd0"/>
<path d="M79.1,552.8 C77.6,549.4 73.0,539.0 70.4,532.4 C67.8,525.8 65.3,518.4 63.5,512.9 C61.7,507.4 60.5,504.2 59.6,499.3 C58.7,494.4 58.4,489.2 58.3,483.7 C58.1,478.2 58.2,471.7 58.7,466.2 C59.2,460.7 60.2,454.8 61.0,450.6 C61.8,446.4 63.1,442.4 63.5,440.8" fill="none" stroke="#2a5fd0" stroke-width="1.2"/>
<path d="M62.6,444.2 L63.8,449.2 L62.0,446.7 L59.3,448.2 Z" fill="#2a5fd0"/>
<path d="M59.7,500.4 C59.2,499.6 57.9,497.1 56.8,495.6 C55.6,494.1 54.3,492.7 52.8,491.3 C51.3,489.9 49.6,488.4 48.0,487.2 C46.4,485.9 44.0,484.4 43.2,483.8" fill="none" stroke="#2a5fd0" stroke-width="1.2"/>
<path d="M42.4,483.2 L47.5,484.0 L44.4,484.7 L44.8,487.8 Z" fill="#2a5fd0"/>
<path d="M71.2,419.2 C72.5,416.5 75.5,408.5 78.9,402.9 C82.3,397.3 87.0,391.0 91.4,385.7 C95.8,380.4 100.5,375.5 105.4,371.0 C110.3,366.5 116.3,361.8 121.0,358.5 C125.7,355.2 130.1,353.3 133.5,351.5 C136.9,349.7 139.9,348.2 141.2,347.6" fill="none" stroke="#2a5fd0" stroke-width="1.2"/>
<path d="M137.4,349.4 L134.3,353.5 L135.1,350.5 L132.3,349.4 Z" fill="#2a5fd0"/>
<path d="M64.4,411.3 C70,409.8 75,406.8 78.9,402.9" fill="none" stroke="#2a5fd0" stroke-width="1.2"/>
<path d="M80.4,400.6 L79.8,405.7 L79.0,402.7 L76.0,403.2 Z" fill="#2a5fd0"/>
<path d="M104.6,371.8 C106.4,369 107.8,365.5 108.4,362" fill="none" stroke="#2a5fd0" stroke-width="1.2"/>
<path d="M108.6,360.8 L110.2,365.7 L108.2,363.3 L105.7,365.0 Z" fill="#2a5fd0"/>
</g>
<g id="panel-d">
<text x="415.6" y="326.6" font-size="21.6" font-weight="bold" fill="#111" text-anchor="start" stroke="#111" stroke-width="0.8">d</text>
<line x1="542.6" y1="330.2" x2="552.7" y2="330.2" stroke="#1a1a1a" stroke-width="1.4"/>
<rect x="554.0" y="323.7" width="12.3" height="11.8" fill="none" stroke="#1e1e1e" stroke-width="1.3" stroke-dasharray="5,2" stroke-dashoffset="2.1"/>
<line x1="568.6" y1="330.2" x2="578.9" y2="330.2" stroke="#1a1a1a" stroke-width="1.4"/>
<text x="580" y="334.59999999999997" font-size="12.3" font-weight="bold" fill="#111" text-anchor="start" textLength="16" lengthAdjust="spacingAndGlyphs" stroke="#111" stroke-width="0.3">Ru</text>
<line x1="597.1" y1="330.2" x2="605.9" y2="330.2" stroke="#1a1a1a" stroke-width="1.4"/>
<text x="607" y="334.59999999999997" font-size="12.3" font-weight="bold" fill="#111" text-anchor="start" textLength="10.4" lengthAdjust="spacingAndGlyphs" stroke="#111" stroke-width="0.3">O</text>
<line x1="618.6" y1="330.2" x2="628.0" y2="330.2" stroke="#1a1a1a" stroke-width="1.4"/>
<text x="629" y="334.59999999999997" font-size="12.3" font-weight="bold" fill="#111" text-anchor="start" textLength="14.9" lengthAdjust="spacingAndGlyphs" stroke="#111" stroke-width="0.3">Zn</text>
<line x1="645.0" y1="330.2" x2="654.7" y2="330.2" stroke="#1a1a1a" stroke-width="1.4"/>
<line x1="678.6" y1="415.8" x2="686.9" y2="415.8" stroke="#1a1a1a" stroke-width="1.4"/>
<rect x="687.9" y="409.1" width="13.0" height="12.3" fill="none" stroke="#1e1e1e" stroke-width="1.3" stroke-dasharray="5,2" stroke-dashoffset="2.1"/>
<line x1="703.1" y1="415.8" x2="711.6" y2="415.8" stroke="#1a1a1a" stroke-width="1.4"/>
<text x="712.6" y="420.2" font-size="12.3" font-weight="bold" fill="#111" text-anchor="start" textLength="15.9" lengthAdjust="spacingAndGlyphs" stroke="#111" stroke-width="0.3">Ru</text>
<line x1="729.6" y1="415.8" x2="738.6" y2="415.8" stroke="#1a1a1a" stroke-width="1.4"/>
<text x="739.6" y="420.2" font-size="12.3" font-weight="bold" fill="#111" text-anchor="start" textLength="10.6" lengthAdjust="spacingAndGlyphs" stroke="#111" stroke-width="0.3">O</text>
<line x1="751.2" y1="415.8" x2="759.4" y2="415.8" stroke="#1a1a1a" stroke-width="1.4"/>
<text x="760.3" y="420.2" font-size="12.3" font-weight="bold" fill="#111" text-anchor="start" textLength="15.3" lengthAdjust="spacingAndGlyphs" stroke="#111" stroke-width="0.3">Zn</text>
<line x1="776.6" y1="415.8" x2="785.4" y2="415.8" stroke="#1a1a1a" stroke-width="1.4"/>
<text x="703.3" y="399.3" font-size="12.3" font-weight="bold" text-anchor="start" textLength="22.5" lengthAdjust="spacingAndGlyphs" stroke-width="0.3"><tspan fill="#111" stroke="#111">H</tspan><tspan fill="#111" stroke="#111" font-size="8.36" dy="2.71">3</tspan><tspan fill="#111" stroke="#111" dy="-2.71">C</tspan></text>
<text x="741" y="399.3" font-size="12.3" font-weight="bold" fill="#111" text-anchor="start" textLength="8.2" lengthAdjust="spacingAndGlyphs" stroke="#111" stroke-width="0.3">H</text>
<line x1="721.9" y1="399.8" x2="721.9" y2="410.0" stroke="#2a2a2a" stroke-width="1.3"/>
<line x1="744.9" y1="399.8" x2="744.9" y2="410.0" stroke="#2a2a2a" stroke-width="1.3"/>
<line x1="410.8" y1="501.6" x2="418.9" y2="501.6" stroke="#1a1a1a" stroke-width="1.4"/>
<rect x="419.8" y="495.0" width="12.7" height="12.3" fill="none" stroke="#1e1e1e" stroke-width="1.3" stroke-dasharray="5,2" stroke-dashoffset="2.1"/>
<line x1="434.8" y1="501.6" x2="441.9" y2="501.6" stroke="#1a1a1a" stroke-width="1.4"/>
<text x="442.8" y="506.0" font-size="12.3" font-weight="bold" fill="#111" text-anchor="start" textLength="16.2" lengthAdjust="spacingAndGlyphs" stroke="#111" stroke-width="0.3">Ru</text>
<line x1="460.0" y1="501.6" x2="469.0" y2="501.6" stroke="#1a1a1a" stroke-width="1.4"/>
<text x="470" y="506.0" font-size="12.3" font-weight="bold" fill="#111" text-anchor="start" textLength="10.9" lengthAdjust="spacingAndGlyphs" stroke="#111" stroke-width="0.3">O</text>
<line x1="481.9" y1="501.6" x2="490.2" y2="501.6" stroke="#1a1a1a" stroke-width="1.4"/>
<text x="491" y="506.0" font-size="12.3" font-weight="bold" fill="#111" text-anchor="start" textLength="15.6" lengthAdjust="spacingAndGlyphs" stroke="#111" stroke-width="0.3">Zn</text>
<line x1="507.6" y1="501.6" x2="516.1" y2="501.6" stroke="#1a1a1a" stroke-width="1.4"/>
<text x="412" y="485.5" font-size="12.3" font-weight="bold" text-anchor="start" textLength="43.4" lengthAdjust="spacingAndGlyphs" stroke-width="0.3"><tspan fill="#111" stroke="#111">H</tspan><tspan fill="#111" stroke="#111" font-size="8.36" dy="2.71">3</tspan><tspan fill="#111" stroke="#111" dy="-2.71">C</tspan><tspan fill="#fb0a10" stroke="#fb0a10">OO</tspan></text>
<text x="471" y="485.5" font-size="12.3" font-weight="bold" fill="#111" text-anchor="start" textLength="8.5" lengthAdjust="spacingAndGlyphs" stroke="#111" stroke-width="0.3">H</text>
<line x1="450.3" y1="485.5" x2="450.3" y2="495.6" stroke="#2a2a2a" stroke-width="1.3"/>
<line x1="475.2" y1="485.5" x2="475.2" y2="495.6" stroke="#2a2a2a" stroke-width="1.3"/>
<line x1="565.1" y1="624" x2="572.4" y2="624" stroke="#1a1a1a" stroke-width="1.4"/>
<rect x="573.3" y="617.4" width="12.5" height="12.3" fill="none" stroke="#1e1e1e" stroke-width="1.3" stroke-dasharray="5,2" stroke-dashoffset="2.1"/>
<line x1="588.1" y1="624" x2="595.9" y2="624" stroke="#1a1a1a" stroke-width="1.4"/>
<text x="597" y="628.4" font-size="12.3" font-weight="bold" fill="#111" text-anchor="start" textLength="15.8" lengthAdjust="spacingAndGlyphs" stroke="#111" stroke-width="0.3">Ru</text>
<line x1="613.8" y1="624" x2="623.4" y2="624" stroke="#1a1a1a" stroke-width="1.4"/>
<text x="624.6" y="628.4" font-size="12.3" font-weight="bold" fill="#111" text-anchor="start" textLength="10.2" lengthAdjust="spacingAndGlyphs" stroke="#111" stroke-width="0.3">O</text>
<line x1="635.8" y1="624" x2="644.2" y2="624" stroke="#1a1a1a" stroke-width="1.4"/>
<text x="645" y="628.4" font-size="12.3" font-weight="bold" fill="#111" text-anchor="start" textLength="15.2" lengthAdjust="spacingAndGlyphs" stroke="#111" stroke-width="0.3">Zn</text>
<line x1="661.2" y1="624" x2="670.0" y2="624" stroke="#1a1a1a" stroke-width="1.4"/>
<text x="574.7" y="607.9" font-size="12.3" font-weight="bold" text-anchor="start" textLength="33" lengthAdjust="spacingAndGlyphs" stroke-width="0.3"><tspan fill="#111" stroke="#111">H</tspan><tspan fill="#111" stroke="#111" font-size="8.36" dy="2.71">3</tspan><tspan fill="#111" stroke="#111" dy="-2.71">C</tspan><tspan fill="#fb0a10" stroke="#fb0a10">O</tspan></text>
<text x="624.6" y="607.9" font-size="12.3" font-weight="bold" fill="#111" text-anchor="start" textLength="8.6" lengthAdjust="spacingAndGlyphs" stroke="#111" stroke-width="0.3">H</text>
<line x1="602.8" y1="607.8" x2="602.8" y2="618.2" stroke="#2a2a2a" stroke-width="1.3"/>
<line x1="629" y1="607.8" x2="629" y2="618.2" stroke="#2a2a2a" stroke-width="1.3"/>
<text x="488" y="331.8" font-size="12.3" font-weight="bold" text-anchor="start" textLength="23.8" lengthAdjust="spacingAndGlyphs" stroke-width="0.3"><tspan fill="#111" stroke="#111">C</tspan><tspan fill="#fb0a10" stroke="#fb0a10">O</tspan><tspan fill="#fb0a10" stroke="#fb0a10" font-size="8.36" dy="2.71">2</tspan></text>
<text x="491.4" y="347.2" font-size="12.3" font-weight="bold" text-anchor="start" textLength="23.8" lengthAdjust="spacingAndGlyphs" stroke-width="0.3"><tspan fill="#111" stroke="#111">H</tspan><tspan fill="#111" stroke="#111" font-size="8.36" dy="2.71">2</tspan><tspan fill="#fb0a10" stroke="#fb0a10" dy="-2.71">O</tspan></text>
<text x="432.3" y="447" font-size="12.3" font-weight="bold" fill="#111" text-anchor="start" textLength="8.7" lengthAdjust="spacingAndGlyphs" stroke="#111" stroke-width="0.3">H</text>
<text x="428.6" y="463.7" font-size="12.3" font-weight="bold" text-anchor="start" textLength="14.4" lengthAdjust="spacingAndGlyphs" stroke-width="0.3"><tspan fill="#fb0a10" stroke="#fb0a10">O</tspan><tspan fill="#fb0a10" stroke="#fb0a10" font-size="8.36" dy="2.71">2</tspan></text>
<text x="623.3" y="355.6" font-size="12.3" font-weight="bold" text-anchor="start" textLength="14.3" lengthAdjust="spacingAndGlyphs" stroke-width="0.3"><tspan fill="#fb0a10" stroke="#fb0a10">O</tspan><tspan fill="#fb0a10" stroke="#fb0a10" font-size="8.36" dy="2.71">2</tspan></text>
<text x="681.6" y="342.4" font-size="12.3" font-weight="bold" text-anchor="start" textLength="23" lengthAdjust="spacingAndGlyphs" stroke-width="0.3"><tspan fill="#111" stroke="#111">CH</tspan><tspan fill="#111" stroke="#111" font-size="8.36" dy="2.71">4</tspan></text>
<text x="425.4" y="547" font-size="12.3" font-weight="bold" text-anchor="start" textLength="23.6" lengthAdjust="spacingAndGlyphs" stroke-width="0.3"><tspan fill="#111" stroke="#111">H</tspan><tspan fill="#111" stroke="#111" font-size="8.36" dy="2.71">2</tspan><tspan fill="#fb0a10" stroke="#fb0a10" dy="-2.71">O</tspan></text>
<text x="521.8" y="615.4" font-size="12.3" font-weight="bold" text-anchor="start" textLength="14.7" lengthAdjust="spacingAndGlyphs" stroke-width="0.3"><tspan fill="#fb0a10" stroke="#fb0a10">O</tspan><tspan fill="#fb0a10" stroke="#fb0a10" font-size="8.36" dy="2.71">2</tspan></text>
<circle cx="652.6" cy="427.4" r="1.8" fill="#fb0a10"/>
<text x="656" y="432" font-size="12.3" font-weight="bold" fill="#fb0a10" text-anchor="start" textLength="9.6" lengthAdjust="spacingAndGlyphs" stroke="#fb0a10" stroke-width="0.3">O</text>
<text x="665.6" y="435.4" font-size="8.2" font-weight="bold" fill="#fb0a10" text-anchor="start" stroke="#fb0a10" stroke-width="0.3">2</text>
<line x1="666" y1="423.6" x2="670.6" y2="423.6" stroke="#fb0a10" stroke-width="1.1"/>
<text x="733.9" y="563.7" font-size="12.3" font-weight="bold" text-anchor="start" textLength="18.4" lengthAdjust="spacingAndGlyphs" stroke-width="0.3"><tspan fill="#fb0a10" stroke="#fb0a10">O</tspan><tspan fill="#111" stroke="#111">H</tspan></text>
<line x1="753.4" y1="555" x2="758" y2="555" stroke="#111" stroke-width="1.1"/>
<text x="603.5" y="468.3" font-size="13" font-weight="bold" fill="#111" text-anchor="middle" textLength="112" lengthAdjust="spacingAndGlyphs" stroke="#111" stroke-width="0.3">Molecular Oxygen</text>
<text x="603.6" y="491.7" font-size="13" font-weight="bold" fill="#111" text-anchor="middle" textLength="134.6" lengthAdjust="spacingAndGlyphs" stroke="#111" stroke-width="0.3">Oxidation Mechanism</text>
<path d="M651.7,339.7 C676,348 701,366 717.9,386.9" fill="none" stroke="#2a5fd0" stroke-width="1.2"/>
<path d="M718.2,387.3 L713.5,385.3 L716.6,385.4 L717.0,382.3 Z" fill="#2a5fd0"/>
<path d="M685.3,346.4 C687,354 690,359.5 695.4,364.4" fill="none" stroke="#2a5fd0" stroke-width="1.2"/>
<path d="M697.2,365.8 L692.2,364.8 L695.2,364.2 L695.0,361.2 Z" fill="#2a5fd0"/>
<path d="M618,341 C615,352 615.2,362 617.2,371 C623,394 637,412 654.3,424.5" fill="none" stroke="#2a5fd0" stroke-width="1.2"/>
<path d="M654.8,424.8 L649.7,424.0 L652.7,423.3 L652.4,420.3 Z" fill="#2a5fd0"/>
<path d="M622.5,355.6 C619.5,359.5 617.8,364.5 617.4,369.8" fill="none" stroke="#2a5fd0" stroke-width="1.2"/>
<path d="M617.2,372.6 L615.1,367.9 L617.3,370.1 L619.7,368.1 Z" fill="#2a5fd0"/>
<path d="M676.9,428.1 C678.9,428.8 684.7,430.5 688.7,432.5 C692.8,434.5 697.1,437.2 701.2,440.0 C705.4,442.8 709.5,445.8 713.6,449.3 C717.8,452.8 722.4,457.1 726.1,461.1 C729.9,465.2 733.4,469.7 736.1,473.6 C738.8,477.6 740.8,481.3 742.3,484.8 C743.8,488.3 744.5,491.9 745.0,494.8 C745.5,497.7 745.6,499.5 745.4,502.2 C745.2,504.9 744.4,508.2 743.7,511.2 C743.0,514.1 742.1,517.0 741.2,519.9 C740.3,522.8 738.9,526.3 738.1,528.6 C737.3,530.9 736.4,531.7 736.2,533.6 C736.0,535.5 736.6,537.6 736.8,539.9 C737.0,542.2 737.2,545.4 737.4,547.3 C737.6,549.1 737.7,550.4 737.8,551.0" fill="none" stroke="#2a5fd0" stroke-width="1.2"/>
<path d="M737.9,552.0 L734.8,546.8 L737.7,549.0 L740.2,546.4 Z" fill="#2a5fd0"/>
<path d="M738.0,424.4 C738.7,426.2 741.1,431.2 742.3,435.0 C743.5,438.8 744.6,443.0 745.4,447.4 C746.2,451.8 746.9,456.7 747.3,461.1 C747.7,465.5 747.9,469.2 747.9,473.6 C747.9,478.0 747.6,483.6 747.3,487.3 C747.0,491.0 746.6,493.5 746.3,496.0 C746.0,498.5 745.8,499.7 745.4,502.2 C745.0,504.7 744.4,508.2 743.7,511.2 C743.0,514.1 742.1,517.0 741.2,519.9 C740.3,522.8 738.9,526.3 738.1,528.6 C737.3,530.9 737.1,531.5 736.2,533.6 C735.3,535.7 734.0,538.4 732.5,541.1 C731.0,543.8 729.5,546.7 727.5,549.8 C725.5,552.9 722.5,557.0 720.6,559.8 C718.7,562.5 718.7,563.1 716.1,566.3 C713.5,569.5 708.9,574.9 704.9,578.9 C700.9,582.9 696.3,587.0 692.3,590.1 C688.3,593.2 684.2,595.7 681.0,597.8 C677.8,599.9 674.6,601.9 673.3,602.7" fill="none" stroke="#2a5fd0" stroke-width="1.2"/>
<path d="M675.2,601.5 L677.9,597.1 L677.3,600.2 L680.3,601.0 Z" fill="#2a5fd0"/>
<path d="M745.2,505.6 L743.4,500.8 L745.5,503.1 L748.0,501.3 Z" fill="#2a5fd0"/>
<path d="M558,614.6 C540,608 522,598 508.4,587.8 C495,577 485,565 477.6,553 C470,541 464,528 461,515.5 L459.6,510.2" fill="none" stroke="#2a5fd0" stroke-width="1.2"/>
<path d="M460.7,514.2 L464.0,518.1 L461.3,516.7 L459.6,519.2 Z" fill="#2a5fd0"/>
<path d="M523.2,603.9 C520,597 515,592 508.4,587.8" fill="none" stroke="#2a5fd0" stroke-width="1.2"/>
<path d="M506.2,586.2 L511.3,587.1 L508.2,587.7 L508.5,590.8 Z" fill="#2a5fd0"/>
<path d="M477.6,553 C471,546 462,543.4 453.2,543.6" fill="none" stroke="#2a5fd0" stroke-width="1.2"/>
<path d="M452.6,543.7 L457.2,541.4 L455.1,543.7 L457.2,546.0 Z" fill="#2a5fd0"/>
<path d="M455.2,473.5 C456,455 459,442 462.3,431.1 C469,410 480,390 495.4,374.2 C510,360 528,348 549.7,340.3" fill="none" stroke="#2a5fd0" stroke-width="1.2"/>
<path d="M547.0,341.4 L543.6,345.3 L544.7,342.3 L541.9,341.0 Z" fill="#2a5fd0"/>
<path d="M443.7,451 C451,448 457.5,441 462.3,431.1" fill="none" stroke="#2a5fd0" stroke-width="1.2"/>
<path d="M463.0,428.6 L463.8,433.7 L462.2,431.0 L459.4,432.3 Z" fill="#2a5fd0"/>
<path d="M495.4,374.2 C498,368 500,361.5 500,355" fill="none" stroke="#2a5fd0" stroke-width="1.2"/>
<path d="M500.0,354.2 L502.3,358.8 L500.0,356.7 L497.7,358.8 Z" fill="#2a5fd0"/>
</g>
</svg></body></html>
